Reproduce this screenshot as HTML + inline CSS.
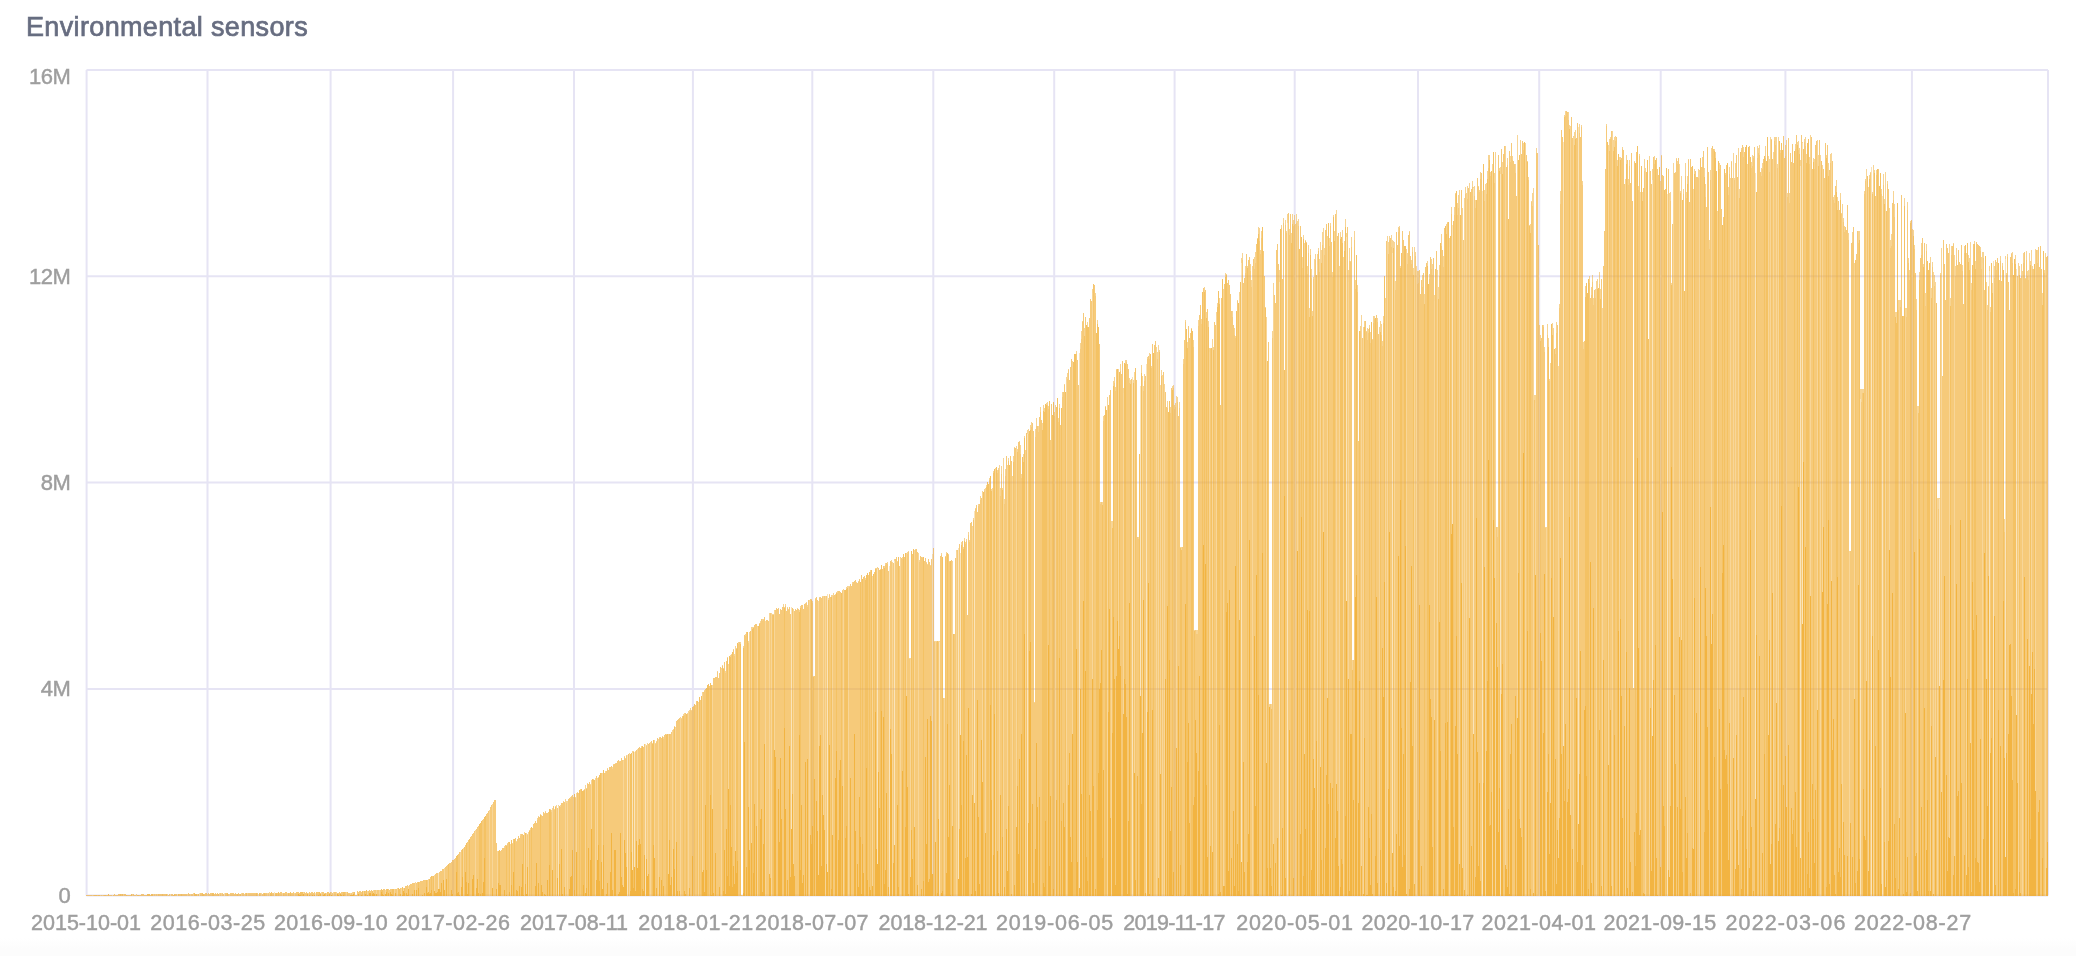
<!DOCTYPE html>
<html><head><meta charset="utf-8"><style>
html,body{margin:0;padding:0;background:#fff;}
body{width:2076px;height:956px;position:relative;overflow:hidden;font-family:"Liberation Sans",sans-serif;}
.title{position:absolute;left:26px;top:10px;font-size:27px;letter-spacing:0.35px;color:#676d80;-webkit-text-stroke:0.7px #676d80;white-space:nowrap;line-height:34px;}
.xl{position:absolute;top:910px;width:200px;text-align:center;font-size:21.5px;letter-spacing:0.3px;color:#9e9e9e;-webkit-text-stroke:0.45px #9e9e9e;line-height:26px;white-space:nowrap;}
.yl{position:absolute;left:0;width:70.3px;text-align:right;font-size:22px;letter-spacing:-0.5px;color:#9e9e9e;-webkit-text-stroke:0.45px #9e9e9e;line-height:26px;white-space:nowrap;margin-top:-5px}
svg{position:absolute;left:0;top:0;}
.title,.xl,.yl{will-change:transform;}
</style></head><body>
<div style="position:absolute;left:0;top:938px;width:2076px;height:18px;background:linear-gradient(#fff,#fcfcfc 60%,#fcfcfc)"></div>
<div class="title">Environmental sensors</div>
<svg width="2076" height="956" viewBox="0 0 2076 956">
<g stroke="#e6e4f4" stroke-width="2" fill="none"><line x1="86.6" y1="70.0" x2="86.6" y2="895.5"/><line x1="207.5" y1="70.0" x2="207.5" y2="895.5"/><line x1="330.6" y1="70.0" x2="330.6" y2="895.5"/><line x1="453.1" y1="70.0" x2="453.1" y2="895.5"/><line x1="574.0" y1="70.0" x2="574.0" y2="895.5"/><line x1="692.9" y1="70.0" x2="692.9" y2="895.5"/><line x1="812.3" y1="70.0" x2="812.3" y2="895.5"/><line x1="933.3" y1="70.0" x2="933.3" y2="895.5"/><line x1="1054.2" y1="70.0" x2="1054.2" y2="895.5"/><line x1="1174.6" y1="70.0" x2="1174.6" y2="895.5"/><line x1="1294.7" y1="70.0" x2="1294.7" y2="895.5"/><line x1="1418.0" y1="70.0" x2="1418.0" y2="895.5"/><line x1="1539.2" y1="70.0" x2="1539.2" y2="895.5"/><line x1="1660.7" y1="70.0" x2="1660.7" y2="895.5"/><line x1="1785.4" y1="70.0" x2="1785.4" y2="895.5"/><line x1="1911.9" y1="70.0" x2="1911.9" y2="895.5"/><line x1="2048.0" y1="70.0" x2="2048.0" y2="895.5"/><line x1="86.5" y1="70.0" x2="2048.0" y2="70.0"/><line x1="86.5" y1="276.3" x2="2048.0" y2="276.3"/><line x1="86.5" y1="482.6" x2="2048.0" y2="482.6"/><line x1="86.5" y1="688.9" x2="2048.0" y2="688.9"/><line x1="86.5" y1="895.5" x2="2048.0" y2="895.5"/></g>
<g fill="rgb(240,170,40)" shape-rendering="crispEdges"><path fill-opacity="0.32" d="M112 895h1v1h-1zM170 894h1v2h-1zM177 894h1v2h-1zM199 893h1v3h-1zM224 893h1v3h-1zM258 894h1v2h-1zM274 892h1v4h-1zM315 893h1v3h-1zM438 873h1v16h-1zM558 806h1v90h-1zM627 755h1v141h-1zM632 753h1v117h-1zM634 752h1v115h-1zM645 744h1v152h-1zM791 607h1v222h-1zM827 594h1v278h-1zM877 569h1v295h-1zM889 566h1v330h-1zM894 561h1v284h-1zM932 554h1v320h-1zM939 642h1v254h-1zM958 548h1v331h-1zM960 553h1v182h-1zM974 511h1v292h-1zM1027 434h1v462h-1zM1079 353h1v535h-1zM1132 377h1v519h-1zM1140 386h1v310h-1zM1146 364h1v532h-1zM1241 263h1v599h-1zM1279 282h1v614h-1zM1287 223h1v673h-1zM1346 237h1v364h-1zM1392 253h1v600h-1zM1452 225h1v299h-1zM1473 188h1v546h-1zM1482 191h1v705h-1zM1500 174h1v722h-1zM1563 142h1v604h-1zM1578 127h1v697h-1zM1652 180h1v556h-1zM1667 194h1v702h-1zM1755 173h1v626h-1zM1800 166h1v692h-1zM1802 143h1v481h-1zM1860 399h1v497h-1zM1871 167h1v729h-1zM1882 196h1v700h-1zM1939 499h1v187h-1zM1989 271h1v625h-1zM1993 261h1v635h-1zM2005 259h1v598h-1zM2016 269h1v446h-1z"/><path fill-opacity="0.48" d="M92 895h1v1h-1zM100 895h1v1h-1zM102 895h1v1h-1zM123 894h1v2h-1zM132 894h1v2h-1zM136 894h1v2h-1zM153 894h1v2h-1zM155 894h1v2h-1zM157 894h1v2h-1zM167 894h1v2h-1zM187 894h1v2h-1zM190 894h1v2h-1zM193 893h1v3h-1zM197 894h1v2h-1zM207 894h1v2h-1zM219 893h1v3h-1zM221 893h1v3h-1zM229 894h1v2h-1zM241 893h1v3h-1zM244 894h1v2h-1zM247 893h1v3h-1zM261 893h1v3h-1zM267 893h1v3h-1zM269 892h1v4h-1zM282 893h1v3h-1zM287 893h1v3h-1zM294 893h1v3h-1zM303 892h1v2h-1zM308 893h1v3h-1zM321 892h1v4h-1zM324 893h1v1h-1zM326 893h1v3h-1zM331 892h1v3h-1zM333 892h1v4h-1zM336 892h1v4h-1zM346 892h1v4h-1zM350 893h1v2h-1zM352 892h1v3h-1zM363 891h1v5h-1zM367 891h1v4h-1zM373 890h1v3h-1zM376 890h1v4h-1zM379 890h1v6h-1zM385 890h1v4h-1zM394 889h1v7h-1zM397 888h1v8h-1zM401 888h1v8h-1zM403 888h1v3h-1zM408 886h1v3h-1zM415 882h1v14h-1zM428 879h1v13h-1zM434 875h1v16h-1zM444 868h1v22h-1zM460 852h1v44h-1zM463 848h1v48h-1zM475 830h1v66h-1zM489 810h1v86h-1zM492 804h1v84h-1zM497 851h1v45h-1zM510 844h1v52h-1zM524 832h1v64h-1zM526 833h1v61h-1zM528 833h1v63h-1zM552 809h1v61h-1zM556 805h1v91h-1zM565 799h1v97h-1zM567 801h1v95h-1zM573 797h1v99h-1zM576 793h1v59h-1zM585 785h1v108h-1zM591 780h1v49h-1zM595 778h1v118h-1zM597 779h1v81h-1zM602 773h1v116h-1zM623 761h1v126h-1zM629 753h1v143h-1zM637 749h1v119h-1zM647 744h1v132h-1zM650 742h1v154h-1zM654 741h1v117h-1zM658 741h1v155h-1zM668 736h1v138h-1zM672 730h1v166h-1zM675 728h1v168h-1zM680 718h1v178h-1zM688 711h1v185h-1zM698 703h1v193h-1zM702 694h1v178h-1zM712 685h1v124h-1zM721 669h1v227h-1zM728 666h1v123h-1zM735 647h1v204h-1zM749 633h1v217h-1zM751 628h1v215h-1zM757 627h1v269h-1zM765 621h1v275h-1zM769 615h1v259h-1zM771 613h1v283h-1zM774 611h1v139h-1zM793 609h1v255h-1zM809 600h1v296h-1zM818 601h1v274h-1zM823 596h1v219h-1zM825 597h1v299h-1zM832 595h1v240h-1zM843 590h1v306h-1zM848 586h1v310h-1zM872 577h1v309h-1zM892 562h1v334h-1zM900 558h1v338h-1zM906 554h1v142h-1zM910 660h1v217h-1zM914 550h1v277h-1zM918 553h1v343h-1zM935 641h1v201h-1zM944 698h1v198h-1zM952 563h1v263h-1zM956 552h1v344h-1zM972 527h1v268h-1zM982 492h1v290h-1zM985 488h1v345h-1zM992 488h1v408h-1zM995 469h1v427h-1zM999 465h1v431h-1zM1003 459h1v437h-1zM1007 468h1v403h-1zM1012 479h1v417h-1zM1016 449h1v378h-1zM1025 458h1v438h-1zM1055 412h1v484h-1zM1066 377h1v519h-1zM1072 367h1v367h-1zM1092 293h1v386h-1zM1107 403h1v493h-1zM1111 521h1v375h-1zM1118 369h1v280h-1zM1123 393h1v321h-1zM1134 372h1v401h-1zM1142 380h1v353h-1zM1156 349h1v547h-1zM1158 345h1v533h-1zM1160 385h1v389h-1zM1162 375h1v521h-1zM1164 389h1v507h-1zM1176 396h1v352h-1zM1209 352h1v544h-1zM1212 339h1v513h-1zM1216 316h1v580h-1zM1223 289h1v597h-1zM1239 296h1v324h-1zM1252 276h1v620h-1zM1266 318h1v445h-1zM1273 284h1v560h-1zM1295 225h1v671h-1zM1297 229h1v322h-1zM1304 243h1v511h-1zM1314 259h1v529h-1zM1317 265h1v631h-1zM1320 242h1v525h-1zM1323 230h1v302h-1zM1327 240h1v458h-1zM1336 210h1v574h-1zM1339 272h1v624h-1zM1343 257h1v639h-1zM1348 282h1v397h-1zM1361 315h1v551h-1zM1363 327h1v567h-1zM1379 333h1v563h-1zM1385 303h1v593h-1zM1387 241h1v655h-1zM1394 242h1v654h-1zM1406 252h1v642h-1zM1414 247h1v637h-1zM1416 266h1v630h-1zM1434 301h1v419h-1zM1437 270h1v626h-1zM1449 247h1v649h-1zM1459 190h1v674h-1zM1462 219h1v649h-1zM1464 198h1v692h-1zM1466 199h1v697h-1zM1469 188h1v430h-1zM1485 184h1v712h-1zM1492 164h1v732h-1zM1495 164h1v732h-1zM1505 149h1v716h-1zM1517 135h1v583h-1zM1520 152h1v676h-1zM1525 143h1v753h-1zM1533 188h1v705h-1zM1535 403h1v172h-1zM1539 330h1v566h-1zM1546 527h1v369h-1zM1550 363h1v440h-1zM1553 338h1v279h-1zM1558 366h1v492h-1zM1570 126h1v689h-1zM1573 137h1v759h-1zM1596 281h1v615h-1zM1602 308h1v588h-1zM1608 154h1v611h-1zM1612 136h1v760h-1zM1619 157h1v739h-1zM1625 179h1v717h-1zM1640 192h1v638h-1zM1645 168h1v728h-1zM1649 158h1v738h-1zM1660 181h1v686h-1zM1669 200h1v677h-1zM1673 163h1v733h-1zM1679 164h1v473h-1zM1681 176h1v464h-1zM1693 189h1v660h-1zM1699 172h1v724h-1zM1711 157h1v487h-1zM1717 212h1v684h-1zM1730 187h1v709h-1zM1733 153h1v605h-1zM1735 172h1v697h-1zM1738 161h1v704h-1zM1747 164h1v732h-1zM1768 156h1v579h-1zM1770 137h1v727h-1zM1773 152h1v744h-1zM1776 150h1v553h-1zM1778 137h1v704h-1zM1786 149h1v658h-1zM1810 135h1v461h-1zM1817 141h1v569h-1zM1820 155h1v741h-1zM1822 165h1v427h-1zM1831 153h1v428h-1zM1842 216h1v680h-1zM1849 551h1v345h-1zM1854 271h1v428h-1zM1866 169h1v512h-1zM1868 191h1v680h-1zM1873 168h1v728h-1zM1885 172h1v715h-1zM1889 213h1v337h-1zM1899 300h1v518h-1zM1905 308h1v405h-1zM1912 229h1v667h-1zM1917 406h1v485h-1zM1930 267h1v624h-1zM1933 272h1v622h-1zM1935 282h1v475h-1zM1937 498h1v398h-1zM1941 248h1v544h-1zM1949 244h1v594h-1zM1954 255h1v601h-1zM1966 257h1v618h-1zM1970 242h1v501h-1zM1982 263h1v633h-1zM1986 282h1v397h-1zM2018 269h1v627h-1zM2022 274h1v622h-1zM2029 253h1v413h-1zM2031 252h1v442h-1zM2035 249h1v542h-1zM2045 262h1v634h-1z"/><path fill-opacity="0.50" d="M504 846h1v2h-1zM506 845h1v1h-1zM507 843h1v1h-1zM512 843h1v1h-1zM516 841h1v1h-1zM520 834h1v2h-1zM527 834h1v1h-1zM528 832h1v1h-1zM529 830h1v1h-1zM530 828h1v2h-1zM537 818h1v2h-1zM538 816h1v1h-1zM540 814h1v1h-1zM541 815h1v1h-1zM544 813h1v1h-1zM545 811h1v1h-1zM550 809h1v1h-1zM551 810h1v2h-1zM552 808h1v1h-1zM554 809h1v1h-1zM555 806h1v1h-1zM558 805h1v1h-1zM560 805h1v2h-1zM563 801h1v1h-1zM566 801h1v2h-1zM570 797h1v2h-1zM571 796h1v1h-1zM575 797h1v1h-1zM577 792h1v1h-1zM580 789h1v1h-1zM583 790h1v1h-1zM584 789h1v1h-1zM586 788h1v1h-1zM587 783h1v1h-1zM590 784h1v1h-1zM593 779h1v1h-1zM597 778h1v1h-1zM598 777h1v1h-1zM605 771h1v2h-1zM607 768h1v1h-1zM612 767h1v2h-1zM613 764h1v1h-1zM615 763h1v1h-1zM619 761h1v1h-1zM623 760h1v1h-1zM624 756h1v1h-1zM625 758h1v1h-1zM626 755h1v1h-1zM632 751h1v2h-1zM633 751h1v1h-1zM635 751h1v1h-1zM641 746h1v2h-1zM646 745h1v1h-1zM647 743h1v1h-1zM652 743h1v1h-1zM654 740h1v1h-1zM655 743h1v1h-1zM656 741h1v1h-1zM658 739h1v2h-1zM659 737h1v1h-1zM662 736h1v1h-1zM663 737h1v2h-1zM666 734h1v1h-1zM668 734h1v2h-1zM673 729h1v1h-1zM674 726h1v1h-1zM675 727h1v1h-1zM680 717h1v1h-1zM681 718h1v1h-1zM683 714h1v2h-1zM684 713h1v2h-1zM687 713h1v1h-1zM689 710h1v2h-1zM690 708h1v2h-1zM691 710h1v1h-1zM693 706h1v1h-1zM698 702h1v1h-1zM702 692h1v2h-1zM704 690h1v1h-1zM717 671h1v1h-1zM721 668h1v1h-1zM722 665h1v1h-1zM723 668h1v1h-1zM725 671h1v2h-1zM727 657h1v1h-1zM728 664h1v2h-1zM730 655h1v2h-1zM731 654h1v1h-1zM733 649h1v1h-1zM734 654h1v2h-1zM735 646h1v1h-1zM736 648h1v1h-1zM738 642h1v2h-1zM740 642h1v2h-1zM742 895h1v1h-1zM743 646h1v2h-1zM745 634h1v2h-1zM748 641h1v2h-1zM749 632h1v1h-1zM751 627h1v1h-1zM752 627h1v2h-1zM753 627h1v1h-1zM757 626h1v1h-1zM759 623h1v1h-1zM760 621h1v2h-1zM762 619h1v2h-1zM763 619h1v1h-1zM769 613h1v2h-1zM772 614h1v1h-1zM773 614h1v1h-1zM774 610h1v1h-1zM783 604h1v3h-1zM784 607h1v1h-1zM785 604h1v2h-1zM787 607h1v1h-1zM788 609h1v1h-1zM797 608h1v1h-1zM799 610h1v2h-1zM800 606h1v2h-1zM805 603h1v1h-1zM806 602h1v1h-1zM807 605h1v2h-1zM811 599h1v1h-1zM812 601h1v2h-1zM813 676h1v1h-1zM815 598h1v1h-1zM819 597h1v1h-1zM822 596h1v1h-1zM825 596h1v1h-1zM828 598h1v2h-1zM829 594h1v1h-1zM831 595h1v2h-1zM833 593h1v3h-1zM835 594h1v1h-1zM836 592h1v1h-1zM837 591h1v2h-1zM842 590h1v1h-1zM843 589h1v1h-1zM846 587h1v2h-1zM847 586h1v2h-1zM849 586h1v1h-1zM852 582h1v2h-1zM856 582h1v1h-1zM858 581h1v1h-1zM865 578h1v2h-1zM870 570h1v2h-1zM872 576h1v1h-1zM875 568h1v1h-1zM876 568h1v1h-1zM877 567h1v2h-1zM880 569h1v1h-1zM884 566h1v2h-1zM885 563h1v2h-1zM887 562h1v2h-1zM891 560h1v2h-1zM894 559h1v2h-1zM897 561h1v1h-1zM900 557h1v1h-1zM902 557h1v2h-1zM906 553h1v1h-1zM907 552h1v2h-1zM908 551h1v1h-1zM909 658h1v1h-1zM910 658h1v2h-1zM915 549h1v1h-1zM919 560h1v2h-1zM922 557h1v1h-1zM926 562h1v1h-1zM927 564h1v1h-1zM930 565h1v1h-1zM934 641h1v1h-1zM936 641h1v1h-1zM938 641h1v1h-1zM939 641h1v1h-1zM941 553h1v2h-1zM945 556h1v1h-1zM946 552h1v2h-1zM948 554h1v1h-1zM949 561h1v1h-1zM952 561h1v2h-1zM956 550h1v2h-1zM961 542h1v3h-1zM963 547h1v2h-1zM964 538h1v3h-1zM965 542h1v2h-1zM966 539h1v2h-1zM968 532h1v3h-1zM969 540h1v2h-1zM972 526h1v1h-1zM973 518h1v2h-1zM975 508h1v1h-1zM978 504h1v2h-1zM980 496h1v4h-1zM982 491h1v1h-1zM984 489h1v2h-1zM986 485h1v2h-1zM989 478h1v2h-1zM991 489h1v2h-1zM993 471h1v2h-1zM995 468h1v1h-1zM997 470h1v3h-1zM998 468h1v2h-1zM1000 488h1v8h-1zM1001 466h1v8h-1zM1002 488h1v2h-1zM1003 458h1v1h-1zM1004 499h1v5h-1zM1005 469h1v7h-1zM1007 465h1v3h-1zM1008 458h1v3h-1zM1012 476h1v3h-1zM1013 456h1v6h-1zM1014 447h1v1h-1zM1016 446h1v3h-1zM1017 449h1v3h-1zM1019 441h1v1h-1zM1020 445h1v9h-1zM1021 474h1v4h-1zM1023 454h1v8h-1zM1024 436h1v2h-1zM1025 450h1v8h-1zM1027 430h1v4h-1zM1028 429h1v5h-1zM1030 425h1v5h-1zM1031 422h1v5h-1zM1034 702h1v1h-1zM1035 429h1v8h-1zM1036 418h1v8h-1zM1038 426h1v6h-1zM1040 407h1v5h-1zM1042 423h1v7h-1zM1043 405h1v6h-1zM1044 408h1v4h-1zM1046 403h1v2h-1zM1047 402h1v3h-1zM1048 406h1v3h-1zM1054 412h1v4h-1zM1055 405h1v7h-1zM1058 418h1v4h-1zM1059 404h1v4h-1zM1062 392h1v5h-1zM1064 384h1v1h-1zM1067 373h1v6h-1zM1068 369h1v1h-1zM1072 361h1v6h-1zM1076 351h1v3h-1zM1080 343h1v6h-1zM1081 331h1v8h-1zM1082 321h1v1h-1zM1084 328h1v8h-1zM1087 322h1v5h-1zM1092 289h1v4h-1zM1095 293h1v3h-1zM1097 320h1v4h-1zM1100 502h1v2h-1zM1102 502h1v3h-1zM1103 416h1v5h-1zM1105 406h1v1h-1zM1107 397h1v6h-1zM1112 521h1v7h-1zM1113 381h1v5h-1zM1114 377h1v6h-1zM1115 387h1v4h-1zM1116 369h1v1h-1zM1120 364h1v7h-1zM1123 388h1v5h-1zM1125 360h1v4h-1zM1126 360h1v2h-1zM1129 378h1v5h-1zM1130 380h1v4h-1zM1133 380h1v3h-1zM1138 537h1v2h-1zM1141 365h1v8h-1zM1142 376h1v4h-1zM1143 386h1v5h-1zM1144 374h1v7h-1zM1147 357h1v2h-1zM1149 353h1v6h-1zM1151 366h1v2h-1zM1156 347h1v2h-1zM1157 352h1v7h-1zM1159 350h1v2h-1zM1161 370h1v6h-1zM1164 384h1v5h-1zM1167 401h1v7h-1zM1170 407h1v6h-1zM1172 386h1v4h-1zM1173 385h1v3h-1zM1174 405h1v4h-1zM1175 403h1v4h-1zM1177 397h1v5h-1zM1179 402h1v6h-1zM1180 547h1v1h-1zM1181 547h1v3h-1zM1183 359h1v5h-1zM1185 320h1v2h-1zM1187 342h1v6h-1zM1191 328h1v1h-1zM1193 340h1v7h-1zM1194 630h1v1h-1zM1196 630h1v4h-1zM1197 630h1v4h-1zM1198 320h1v6h-1zM1201 319h1v5h-1zM1204 287h1v5h-1zM1206 312h1v6h-1zM1208 321h1v6h-1zM1209 348h1v4h-1zM1210 348h1v1h-1zM1213 347h1v3h-1zM1216 312h1v4h-1zM1217 303h1v4h-1zM1219 298h1v6h-1zM1225 273h1v4h-1zM1226 274h1v1h-1zM1232 311h1v6h-1zM1234 328h1v7h-1zM1235 336h1v2h-1zM1237 300h1v1h-1zM1239 292h1v4h-1zM1241 258h1v5h-1zM1242 253h1v7h-1zM1245 266h1v7h-1zM1247 266h1v2h-1zM1250 264h1v7h-1zM1251 280h1v7h-1zM1252 266h1v10h-1zM1254 257h1v12h-1zM1255 252h1v11h-1zM1257 238h1v1h-1zM1258 227h1v7h-1zM1259 228h1v13h-1zM1260 250h1v4h-1zM1261 231h1v7h-1zM1265 307h1v1h-1zM1266 317h1v1h-1zM1269 704h1v3h-1zM1271 704h1v5h-1zM1272 331h1v7h-1zM1273 283h1v1h-1zM1279 270h1v12h-1zM1281 225h1v3h-1zM1283 218h1v5h-1zM1285 220h1v5h-1zM1286 231h1v2h-1zM1287 214h1v9h-1zM1289 229h1v6h-1zM1291 233h1v10h-1zM1292 214h1v10h-1zM1293 220h1v6h-1zM1294 215h1v10h-1zM1295 224h1v1h-1zM1296 214h1v9h-1zM1297 221h1v8h-1zM1298 219h1v7h-1zM1302 257h1v11h-1zM1303 235h1v4h-1zM1305 240h1v1h-1zM1306 242h1v1h-1zM1307 266h1v8h-1zM1308 245h1v8h-1zM1309 308h1v9h-1zM1310 249h1v6h-1zM1311 269h1v9h-1zM1312 311h1v5h-1zM1313 277h1v2h-1zM1315 254h1v6h-1zM1317 254h1v11h-1zM1318 248h1v3h-1zM1319 259h1v13h-1zM1321 250h1v13h-1zM1322 232h1v13h-1zM1323 228h1v2h-1zM1324 248h1v7h-1zM1327 236h1v4h-1zM1329 238h1v8h-1zM1330 223h1v3h-1zM1332 272h1v5h-1zM1333 215h1v2h-1zM1334 231h1v10h-1zM1339 266h1v6h-1zM1340 232h1v7h-1zM1342 230h1v13h-1zM1344 241h1v10h-1zM1345 219h1v8h-1zM1346 233h1v4h-1zM1348 270h1v12h-1zM1349 248h1v13h-1zM1350 261h1v1h-1zM1351 237h1v10h-1zM1352 660h1v10h-1zM1354 231h1v9h-1zM1355 280h1v9h-1zM1357 285h1v7h-1zM1360 326h1v5h-1zM1364 321h1v6h-1zM1366 331h1v1h-1zM1367 328h1v12h-1zM1368 329h1v4h-1zM1369 325h1v3h-1zM1370 332h1v11h-1zM1372 339h1v1h-1zM1373 316h1v7h-1zM1374 316h1v3h-1zM1377 318h1v4h-1zM1379 327h1v6h-1zM1380 321h1v11h-1zM1381 324h1v11h-1zM1382 341h1v5h-1zM1383 316h1v7h-1zM1385 298h1v5h-1zM1387 236h1v5h-1zM1388 242h1v12h-1zM1389 236h1v4h-1zM1391 235h1v12h-1zM1392 240h1v13h-1zM1393 241h1v7h-1zM1395 281h1v9h-1zM1398 227h1v5h-1zM1399 226h1v2h-1zM1400 266h1v2h-1zM1406 249h1v3h-1zM1407 253h1v11h-1zM1409 231h1v1h-1zM1411 260h1v4h-1zM1412 247h1v5h-1zM1413 268h1v7h-1zM1415 252h1v4h-1zM1417 271h1v13h-1zM1418 271h1v12h-1zM1422 275h1v12h-1zM1424 294h1v10h-1zM1427 261h1v5h-1zM1429 274h1v5h-1zM1431 259h1v10h-1zM1432 264h1v11h-1zM1434 295h1v6h-1zM1438 287h1v12h-1zM1439 265h1v11h-1zM1441 234h1v12h-1zM1443 256h1v11h-1zM1446 224h1v10h-1zM1447 222h1v1h-1zM1449 238h1v9h-1zM1451 207h1v7h-1zM1454 207h1v8h-1zM1455 193h1v1h-1zM1457 203h1v12h-1zM1458 195h1v13h-1zM1462 208h1v11h-1zM1465 187h1v7h-1zM1466 193h1v6h-1zM1467 186h1v13h-1zM1469 183h1v5h-1zM1472 181h1v6h-1zM1473 187h1v1h-1zM1474 186h1v10h-1zM1475 200h1v8h-1zM1478 186h1v1h-1zM1479 190h1v2h-1zM1480 172h1v7h-1zM1484 190h1v11h-1zM1486 183h1v11h-1zM1487 171h1v8h-1zM1488 155h1v13h-1zM1489 155h1v5h-1zM1490 172h1v4h-1zM1494 173h1v10h-1zM1495 152h1v12h-1zM1497 527h1v10h-1zM1499 168h1v3h-1zM1500 167h1v7h-1zM1502 162h1v12h-1zM1505 146h1v3h-1zM1507 158h1v7h-1zM1510 156h1v6h-1zM1512 156h1v4h-1zM1515 164h1v9h-1zM1520 140h1v12h-1zM1523 143h1v7h-1zM1527 161h1v1h-1zM1528 177h1v3h-1zM1529 225h1v1h-1zM1530 224h1v9h-1zM1531 201h1v1h-1zM1532 193h1v13h-1zM1534 395h1v5h-1zM1535 395h1v8h-1zM1536 148h1v5h-1zM1539 325h1v5h-1zM1540 335h1v6h-1zM1543 325h1v2h-1zM1544 347h1v5h-1zM1545 527h1v1h-1zM1547 324h1v11h-1zM1548 338h1v9h-1zM1549 379h1v2h-1zM1552 323h1v12h-1zM1553 328h1v10h-1zM1555 348h1v6h-1zM1556 322h1v11h-1zM1559 304h1v4h-1zM1560 191h1v13h-1zM1564 115h1v2h-1zM1565 111h1v5h-1zM1568 112h1v8h-1zM1569 125h1v4h-1zM1573 136h1v1h-1zM1574 132h1v13h-1zM1575 130h1v9h-1zM1579 124h1v9h-1zM1581 125h1v2h-1zM1582 181h1v4h-1zM1583 342h1v7h-1zM1585 286h1v11h-1zM1589 276h1v7h-1zM1591 287h1v8h-1zM1592 275h1v7h-1zM1593 298h1v7h-1zM1595 289h1v9h-1zM1597 279h1v10h-1zM1599 272h1v12h-1zM1600 289h1v10h-1zM1606 124h1v2h-1zM1608 145h1v9h-1zM1609 139h1v12h-1zM1610 137h1v2h-1zM1612 131h1v5h-1zM1613 140h1v11h-1zM1614 137h1v10h-1zM1615 136h1v5h-1zM1617 160h1v6h-1zM1620 157h1v3h-1zM1622 147h1v2h-1zM1626 155h1v9h-1zM1628 179h1v6h-1zM1629 160h1v6h-1zM1634 161h1v1h-1zM1638 186h1v4h-1zM1639 154h1v2h-1zM1642 192h1v9h-1zM1644 159h1v12h-1zM1649 156h1v2h-1zM1652 169h1v11h-1zM1654 156h1v8h-1zM1661 155h1v1h-1zM1669 193h1v7h-1zM1670 192h1v9h-1zM1671 283h1v2h-1zM1675 172h1v1h-1zM1676 158h1v1h-1zM1677 161h1v3h-1zM1680 191h1v2h-1zM1683 189h1v5h-1zM1685 163h1v13h-1zM1686 192h1v6h-1zM1687 176h1v8h-1zM1688 159h1v1h-1zM1694 169h1v5h-1zM1698 169h1v9h-1zM1699 170h1v2h-1zM1702 157h1v10h-1zM1704 168h1v9h-1zM1705 184h1v13h-1zM1709 240h1v9h-1zM1710 170h1v10h-1zM1711 148h1v9h-1zM1714 149h1v2h-1zM1715 152h1v6h-1zM1717 211h1v1h-1zM1719 163h1v6h-1zM1725 173h1v2h-1zM1728 187h1v8h-1zM1729 167h1v7h-1zM1730 178h1v9h-1zM1731 161h1v1h-1zM1734 178h1v2h-1zM1735 163h1v9h-1zM1738 148h1v13h-1zM1739 189h1v9h-1zM1741 148h1v2h-1zM1743 147h1v10h-1zM1751 162h1v6h-1zM1752 155h1v11h-1zM1753 156h1v2h-1zM1757 146h1v12h-1zM1758 148h1v5h-1zM1759 145h1v10h-1zM1761 168h1v8h-1zM1762 163h1v6h-1zM1765 146h1v12h-1zM1769 159h1v13h-1zM1771 139h1v1h-1zM1774 137h1v4h-1zM1775 137h1v8h-1zM1776 137h1v13h-1zM1777 164h1v4h-1zM1780 150h1v3h-1zM1785 145h1v11h-1zM1786 140h1v9h-1zM1787 193h1v4h-1zM1789 193h1v10h-1zM1795 144h1v5h-1zM1797 142h1v3h-1zM1798 141h1v9h-1zM1799 148h1v6h-1zM1800 160h1v6h-1zM1802 142h1v1h-1zM1804 139h1v3h-1zM1805 137h1v9h-1zM1806 154h1v9h-1zM1809 157h1v7h-1zM1813 158h1v4h-1zM1814 159h1v10h-1zM1817 140h1v1h-1zM1818 155h1v11h-1zM1826 155h1v3h-1zM1828 163h1v13h-1zM1830 154h1v9h-1zM1833 197h1v3h-1zM1834 195h1v8h-1zM1836 180h1v12h-1zM1837 197h1v13h-1zM1840 193h1v7h-1zM1841 213h1v1h-1zM1842 204h1v12h-1zM1843 218h1v4h-1zM1844 226h1v6h-1zM1848 233h1v7h-1zM1852 232h1v10h-1zM1854 263h1v8h-1zM1858 231h1v12h-1zM1859 231h1v9h-1zM1860 389h1v10h-1zM1861 389h1v13h-1zM1862 389h1v4h-1zM1863 389h1v4h-1zM1864 191h1v3h-1zM1865 179h1v2h-1zM1868 187h1v4h-1zM1869 175h1v4h-1zM1870 172h1v1h-1zM1872 192h1v2h-1zM1873 165h1v3h-1zM1874 170h1v3h-1zM1876 170h1v5h-1zM1881 189h1v5h-1zM1883 174h1v11h-1zM1884 199h1v5h-1zM1887 181h1v3h-1zM1889 208h1v5h-1zM1890 240h1v8h-1zM1891 234h1v12h-1zM1893 191h1v9h-1zM1894 204h1v13h-1zM1895 312h1v5h-1zM1896 312h1v11h-1zM1898 300h1v10h-1zM1900 300h1v7h-1zM1904 198h1v8h-1zM1906 308h1v9h-1zM1907 202h1v8h-1zM1908 258h1v5h-1zM1909 270h1v10h-1zM1910 221h1v2h-1zM1913 230h1v6h-1zM1914 245h1v4h-1zM1916 299h1v11h-1zM1918 406h1v7h-1zM1919 272h1v8h-1zM1921 243h1v12h-1zM1923 264h1v3h-1zM1925 293h1v13h-1zM1926 244h1v7h-1zM1930 257h1v10h-1zM1931 288h1v10h-1zM1932 262h1v5h-1zM1934 275h1v11h-1zM1938 498h1v11h-1zM1939 498h1v1h-1zM1940 273h1v2h-1zM1950 298h1v8h-1zM1951 246h1v9h-1zM1953 243h1v1h-1zM1955 266h1v10h-1zM1956 248h1v12h-1zM1962 265h1v6h-1zM1964 246h1v7h-1zM1966 253h1v4h-1zM1968 255h1v7h-1zM1969 258h1v12h-1zM1971 283h1v7h-1zM1974 241h1v3h-1zM1975 261h1v8h-1zM1980 247h1v4h-1zM1981 257h1v12h-1zM1982 252h1v11h-1zM1983 252h1v6h-1zM1987 305h1v5h-1zM1988 286h1v1h-1zM1989 266h1v5h-1zM1990 307h1v5h-1zM1992 283h1v10h-1zM1994 266h1v12h-1zM1996 262h1v8h-1zM2000 256h1v5h-1zM2002 263h1v3h-1zM2004 519h1v13h-1zM2005 256h1v3h-1zM2006 273h1v2h-1zM2007 254h1v3h-1zM2011 253h1v1h-1zM2012 252h1v11h-1zM2015 255h1v9h-1zM2018 263h1v6h-1zM2019 266h1v9h-1zM2021 264h1v12h-1zM2022 271h1v3h-1zM2023 253h1v10h-1zM2025 278h1v1h-1zM2026 251h1v9h-1zM2027 271h1v5h-1zM2028 270h1v10h-1zM2030 261h1v4h-1zM2031 250h1v2h-1zM2032 266h1v3h-1zM2037 250h1v13h-1zM2042 293h1v12h-1zM2044 270h1v3h-1zM2045 253h1v9h-1z"/><path fill-opacity="0.62" d="M86 895h1v1h-1zM87 895h1v1h-1zM88 895h1v1h-1zM89 895h1v1h-1zM90 895h1v1h-1zM91 895h1v1h-1zM93 895h1v1h-1zM97 895h1v1h-1zM101 895h1v1h-1zM103 895h1v1h-1zM106 895h1v1h-1zM107 895h1v1h-1zM109 895h1v1h-1zM110 895h1v1h-1zM111 895h1v1h-1zM114 894h1v2h-1zM115 895h1v1h-1zM116 895h1v1h-1zM117 895h1v1h-1zM118 894h1v2h-1zM119 894h1v2h-1zM121 894h1v2h-1zM124 894h1v2h-1zM125 894h1v2h-1zM127 895h1v1h-1zM128 895h1v1h-1zM129 895h1v1h-1zM130 895h1v1h-1zM133 894h1v2h-1zM134 895h1v1h-1zM135 895h1v1h-1zM139 895h1v1h-1zM140 895h1v1h-1zM141 894h1v2h-1zM142 894h1v2h-1zM143 894h1v2h-1zM144 895h1v1h-1zM145 895h1v1h-1zM146 895h1v1h-1zM150 895h1v1h-1zM154 894h1v2h-1zM156 894h1v2h-1zM159 894h1v2h-1zM160 894h1v2h-1zM161 894h1v2h-1zM163 894h1v2h-1zM164 894h1v2h-1zM165 894h1v2h-1zM168 895h1v1h-1zM169 894h1v2h-1zM171 894h1v2h-1zM172 894h1v2h-1zM175 894h1v2h-1zM176 894h1v2h-1zM179 894h1v2h-1zM180 894h1v2h-1zM182 894h1v2h-1zM183 894h1v2h-1zM184 894h1v2h-1zM185 894h1v2h-1zM186 894h1v2h-1zM188 893h1v3h-1zM189 894h1v2h-1zM191 894h1v2h-1zM192 894h1v2h-1zM200 893h1v3h-1zM201 893h1v3h-1zM204 894h1v2h-1zM205 893h1v3h-1zM206 893h1v3h-1zM208 893h1v3h-1zM209 894h1v2h-1zM210 893h1v3h-1zM211 893h1v3h-1zM214 894h1v2h-1zM215 893h1v3h-1zM216 894h1v2h-1zM217 893h1v3h-1zM220 893h1v3h-1zM222 893h1v3h-1zM223 894h1v2h-1zM225 893h1v3h-1zM226 893h1v3h-1zM228 894h1v2h-1zM230 893h1v3h-1zM231 893h1v3h-1zM232 893h1v3h-1zM233 893h1v3h-1zM234 894h1v2h-1zM235 893h1v3h-1zM236 894h1v2h-1zM238 893h1v3h-1zM239 894h1v2h-1zM242 893h1v3h-1zM243 893h1v3h-1zM245 893h1v3h-1zM248 893h1v3h-1zM249 893h1v3h-1zM250 893h1v3h-1zM251 893h1v3h-1zM252 893h1v3h-1zM253 893h1v3h-1zM254 893h1v3h-1zM255 893h1v3h-1zM257 893h1v3h-1zM260 893h1v3h-1zM262 894h1v2h-1zM263 893h1v3h-1zM265 893h1v3h-1zM266 893h1v3h-1zM268 893h1v3h-1zM272 893h1v3h-1zM273 893h1v3h-1zM277 893h1v3h-1zM279 893h1v3h-1zM280 892h1v4h-1zM281 892h1v4h-1zM284 893h1v3h-1zM285 892h1v4h-1zM286 892h1v4h-1zM289 893h1v3h-1zM291 893h1v3h-1zM292 893h1v3h-1zM293 892h1v4h-1zM295 893h1v3h-1zM296 892h1v4h-1zM297 892h1v4h-1zM298 892h1v2h-1zM299 893h1v2h-1zM304 892h1v4h-1zM305 893h1v3h-1zM306 892h1v4h-1zM307 893h1v1h-1zM309 892h1v3h-1zM310 893h1v3h-1zM311 892h1v4h-1zM312 892h1v3h-1zM313 893h1v3h-1zM314 892h1v3h-1zM317 892h1v4h-1zM318 892h1v3h-1zM320 893h1v1h-1zM322 892h1v4h-1zM323 892h1v3h-1zM328 892h1v4h-1zM329 893h1v1h-1zM330 892h1v4h-1zM332 893h1v3h-1zM334 892h1v4h-1zM335 892h1v4h-1zM337 893h1v1h-1zM338 893h1v2h-1zM339 892h1v4h-1zM340 893h1v1h-1zM341 892h1v3h-1zM342 892h1v4h-1zM345 892h1v4h-1zM348 893h1v3h-1zM349 893h1v3h-1zM351 893h1v2h-1zM353 892h1v2h-1zM355 895h1v1h-1zM356 895h1v1h-1zM357 891h1v5h-1zM358 892h1v2h-1zM359 891h1v5h-1zM360 891h1v5h-1zM361 892h1v3h-1zM365 891h1v3h-1zM368 891h1v5h-1zM369 890h1v3h-1zM370 891h1v2h-1zM371 890h1v6h-1zM374 890h1v4h-1zM375 890h1v6h-1zM377 890h1v6h-1zM378 890h1v6h-1zM380 890h1v6h-1zM383 889h1v6h-1zM384 889h1v7h-1zM388 889h1v4h-1zM389 890h1v6h-1zM390 889h1v3h-1zM391 889h1v5h-1zM395 889h1v4h-1zM396 889h1v7h-1zM400 888h1v6h-1zM405 886h1v10h-1zM406 886h1v7h-1zM407 885h1v10h-1zM409 885h1v11h-1zM410 884h1v12h-1zM411 884h1v12h-1zM412 883h1v11h-1zM413 883h1v13h-1zM414 883h1v7h-1zM416 883h1v7h-1zM417 882h1v14h-1zM419 882h1v14h-1zM420 881h1v15h-1zM421 881h1v15h-1zM422 881h1v14h-1zM423 880h1v16h-1zM424 880h1v13h-1zM425 880h1v16h-1zM427 880h1v13h-1zM430 877h1v16h-1zM432 876h1v20h-1zM435 874h1v19h-1zM436 873h1v20h-1zM437 873h1v19h-1zM439 872h1v17h-1zM440 871h1v21h-1zM441 871h1v12h-1zM442 869h1v27h-1zM443 869h1v11h-1zM445 867h1v29h-1zM446 866h1v13h-1zM447 865h1v31h-1zM449 863h1v33h-1zM450 863h1v33h-1zM451 862h1v28h-1zM452 860h1v34h-1zM453 860h1v36h-1zM454 859h1v37h-1zM455 858h1v38h-1zM458 854h1v38h-1zM459 852h1v43h-1zM461 850h1v37h-1zM465 845h1v27h-1zM467 842h1v52h-1zM468 840h1v43h-1zM470 837h1v59h-1zM471 836h1v60h-1zM472 834h1v45h-1zM473 833h1v42h-1zM474 831h1v65h-1zM476 829h1v59h-1zM477 827h1v52h-1zM478 826h1v67h-1zM482 820h1v73h-1zM483 819h1v63h-1zM486 814h1v82h-1zM487 813h1v83h-1zM488 811h1v85h-1zM490 807h1v89h-1zM491 805h1v91h-1zM493 802h1v94h-1zM494 800h1v96h-1zM495 800h1v96h-1zM496 843h1v46h-1zM500 851h1v34h-1zM501 850h1v46h-1zM502 848h1v48h-1zM503 848h1v48h-1zM504 848h1v42h-1zM505 845h1v51h-1zM507 844h1v52h-1zM508 842h1v54h-1zM512 844h1v52h-1zM513 839h1v33h-1zM515 838h1v58h-1zM516 842h1v48h-1zM517 839h1v52h-1zM518 836h1v60h-1zM519 838h1v48h-1zM520 836h1v60h-1zM521 834h1v53h-1zM522 834h1v30h-1zM527 835h1v32h-1zM530 830h1v66h-1zM532 828h1v68h-1zM533 824h1v72h-1zM534 823h1v73h-1zM535 821h1v65h-1zM536 823h1v40h-1zM537 820h1v76h-1zM538 817h1v66h-1zM539 817h1v79h-1zM541 816h1v69h-1zM542 816h1v76h-1zM543 812h1v84h-1zM544 814h1v80h-1zM545 812h1v83h-1zM546 813h1v83h-1zM547 813h1v67h-1zM548 812h1v84h-1zM551 812h1v84h-1zM553 806h1v90h-1zM554 810h1v86h-1zM557 808h1v70h-1zM560 807h1v89h-1zM561 803h1v46h-1zM562 803h1v91h-1zM563 802h1v94h-1zM564 802h1v85h-1zM566 803h1v93h-1zM568 799h1v97h-1zM569 798h1v91h-1zM570 799h1v78h-1zM571 797h1v79h-1zM572 795h1v55h-1zM575 798h1v98h-1zM578 793h1v103h-1zM580 790h1v106h-1zM587 784h1v112h-1zM588 784h1v64h-1zM589 782h1v114h-1zM590 785h1v75h-1zM596 776h1v104h-1zM601 773h1v89h-1zM604 773h1v123h-1zM605 773h1v123h-1zM606 771h1v123h-1zM607 769h1v114h-1zM608 770h1v126h-1zM609 767h1v129h-1zM610 767h1v105h-1zM611 766h1v67h-1zM612 769h1v121h-1zM613 765h1v131h-1zM614 764h1v86h-1zM615 764h1v86h-1zM616 763h1v133h-1zM617 761h1v135h-1zM618 760h1v134h-1zM619 762h1v130h-1zM620 761h1v72h-1zM621 758h1v119h-1zM622 760h1v125h-1zM624 757h1v83h-1zM625 759h1v94h-1zM626 756h1v111h-1zM635 752h1v139h-1zM636 750h1v91h-1zM638 748h1v97h-1zM639 747h1v92h-1zM640 748h1v96h-1zM643 747h1v144h-1zM644 744h1v111h-1zM646 746h1v113h-1zM648 744h1v130h-1zM649 743h1v153h-1zM651 741h1v155h-1zM655 744h1v152h-1zM656 742h1v146h-1zM657 738h1v158h-1zM659 738h1v139h-1zM660 737h1v159h-1zM661 738h1v142h-1zM663 739h1v147h-1zM664 735h1v161h-1zM665 734h1v162h-1zM670 734h1v151h-1zM671 732h1v145h-1zM673 730h1v119h-1zM676 721h1v121h-1zM677 720h1v171h-1zM678 719h1v177h-1zM679 718h1v173h-1zM681 719h1v177h-1zM682 716h1v180h-1zM684 715h1v176h-1zM685 713h1v181h-1zM687 714h1v182h-1zM689 712h1v176h-1zM690 710h1v186h-1zM691 711h1v185h-1zM692 707h1v149h-1zM693 707h1v189h-1zM695 705h1v191h-1zM696 701h1v195h-1zM700 700h1v196h-1zM703 692h1v178h-1zM704 691h1v201h-1zM705 689h1v116h-1zM709 686h1v210h-1zM713 678h1v215h-1zM714 678h1v218h-1zM715 677h1v176h-1zM716 677h1v219h-1zM717 672h1v224h-1zM718 678h1v218h-1zM719 673h1v214h-1zM720 667h1v229h-1zM724 662h1v188h-1zM725 673h1v221h-1zM726 661h1v168h-1zM731 655h1v192h-1zM733 650h1v216h-1zM734 656h1v228h-1zM738 644h1v252h-1zM739 642h1v254h-1zM741 895h1v1h-1zM744 635h1v107h-1zM745 636h1v260h-1zM746 632h1v235h-1zM748 643h1v164h-1zM754 625h1v179h-1zM755 624h1v272h-1zM756 624h1v202h-1zM760 623h1v196h-1zM761 619h1v190h-1zM762 621h1v271h-1zM763 620h1v224h-1zM764 617h1v127h-1zM766 620h1v276h-1zM767 620h1v276h-1zM768 621h1v275h-1zM770 613h1v265h-1zM775 610h1v147h-1zM776 608h1v288h-1zM777 609h1v287h-1zM778 608h1v181h-1zM779 614h1v228h-1zM780 609h1v149h-1zM781 610h1v209h-1zM782 607h1v289h-1zM783 607h1v289h-1zM785 606h1v203h-1zM786 611h1v285h-1zM787 608h1v272h-1zM788 610h1v286h-1zM789 607h1v139h-1zM790 614h1v263h-1zM794 611h1v265h-1zM795 609h1v287h-1zM796 610h1v286h-1zM797 609h1v287h-1zM798 609h1v287h-1zM801 605h1v200h-1zM802 605h1v278h-1zM803 609h1v266h-1zM804 604h1v292h-1zM805 604h1v158h-1zM806 603h1v293h-1zM807 607h1v152h-1zM808 600h1v296h-1zM810 599h1v236h-1zM812 603h1v223h-1zM814 676h1v103h-1zM815 599h1v297h-1zM816 597h1v204h-1zM817 600h1v231h-1zM819 598h1v148h-1zM820 597h1v138h-1zM821 598h1v268h-1zM822 597h1v198h-1zM824 596h1v234h-1zM826 596h1v268h-1zM829 595h1v150h-1zM830 597h1v299h-1zM833 596h1v300h-1zM834 595h1v301h-1zM835 595h1v183h-1zM837 593h1v303h-1zM838 591h1v249h-1zM839 591h1v179h-1zM840 592h1v168h-1zM842 591h1v195h-1zM849 587h1v309h-1zM850 584h1v194h-1zM851 586h1v310h-1zM852 584h1v312h-1zM853 582h1v314h-1zM854 581h1v153h-1zM855 580h1v251h-1zM856 583h1v313h-1zM857 583h1v281h-1zM858 582h1v305h-1zM859 579h1v218h-1zM861 575h1v319h-1zM863 577h1v296h-1zM864 576h1v320h-1zM868 575h1v321h-1zM870 572h1v318h-1zM874 572h1v324h-1zM876 569h1v280h-1zM878 568h1v204h-1zM879 570h1v238h-1zM882 569h1v327h-1zM883 566h1v151h-1zM885 565h1v305h-1zM886 563h1v230h-1zM887 564h1v332h-1zM888 571h1v316h-1zM890 561h1v168h-1zM891 562h1v192h-1zM893 563h1v300h-1zM895 559h1v337h-1zM896 557h1v339h-1zM897 562h1v243h-1zM899 566h1v330h-1zM901 558h1v338h-1zM902 559h1v212h-1zM904 557h1v339h-1zM907 554h1v233h-1zM908 552h1v342h-1zM909 659h1v237h-1zM912 554h1v305h-1zM915 550h1v346h-1zM916 549h1v347h-1zM917 552h1v333h-1zM919 562h1v334h-1zM920 556h1v340h-1zM921 557h1v332h-1zM922 558h1v338h-1zM924 561h1v335h-1zM925 558h1v199h-1zM926 563h1v281h-1zM927 565h1v154h-1zM928 559h1v323h-1zM929 562h1v317h-1zM930 566h1v150h-1zM931 559h1v162h-1zM933 548h1v348h-1zM934 642h1v254h-1zM936 642h1v254h-1zM938 642h1v177h-1zM940 556h1v340h-1zM941 555h1v338h-1zM943 698h1v198h-1zM946 554h1v319h-1zM948 555h1v282h-1zM949 562h1v223h-1zM951 560h1v336h-1zM954 634h1v262h-1zM955 558h1v338h-1zM957 550h1v346h-1zM959 544h1v285h-1zM962 541h1v355h-1zM965 544h1v314h-1zM966 541h1v214h-1zM967 615h1v242h-1zM968 535h1v173h-1zM969 542h1v354h-1zM970 523h1v373h-1zM971 522h1v372h-1zM975 509h1v382h-1zM976 505h1v391h-1zM977 512h1v188h-1zM978 506h1v311h-1zM979 504h1v380h-1zM980 500h1v396h-1zM981 498h1v242h-1zM984 491h1v405h-1zM989 480h1v416h-1zM997 473h1v378h-1zM998 470h1v423h-1zM1000 496h1v299h-1zM1001 474h1v422h-1zM1004 504h1v383h-1zM1005 476h1v420h-1zM1006 456h1v373h-1zM1010 456h1v440h-1zM1011 461h1v433h-1zM1014 448h1v437h-1zM1015 448h1v448h-1zM1018 442h1v412h-1zM1019 442h1v317h-1zM1020 454h1v442h-1zM1021 478h1v256h-1zM1028 434h1v389h-1zM1031 427h1v469h-1zM1032 423h1v381h-1zM1033 431h1v452h-1zM1034 703h1v193h-1zM1035 437h1v412h-1zM1036 426h1v317h-1zM1037 426h1v381h-1zM1038 432h1v464h-1zM1039 417h1v380h-1zM1040 412h1v484h-1zM1041 420h1v476h-1zM1047 405h1v491h-1zM1048 409h1v236h-1zM1050 440h1v356h-1zM1051 404h1v492h-1zM1054 416h1v480h-1zM1058 422h1v474h-1zM1060 425h1v471h-1zM1062 397h1v499h-1zM1063 392h1v411h-1zM1064 385h1v442h-1zM1067 379h1v517h-1zM1068 370h1v415h-1zM1069 380h1v373h-1zM1070 367h1v470h-1zM1071 359h1v503h-1zM1076 354h1v295h-1zM1077 360h1v502h-1zM1078 385h1v511h-1zM1080 349h1v340h-1zM1081 339h1v455h-1zM1082 322h1v574h-1zM1083 313h1v288h-1zM1085 317h1v354h-1zM1089 318h1v477h-1zM1090 299h1v512h-1zM1091 301h1v595h-1zM1094 285h1v611h-1zM1095 296h1v593h-1zM1099 344h1v345h-1zM1100 504h1v179h-1zM1101 502h1v148h-1zM1103 421h1v349h-1zM1104 415h1v481h-1zM1109 395h1v214h-1zM1110 390h1v428h-1zM1114 383h1v296h-1zM1115 391h1v494h-1zM1116 370h1v306h-1zM1120 371h1v295h-1zM1121 374h1v522h-1zM1122 361h1v535h-1zM1126 362h1v355h-1zM1127 364h1v530h-1zM1128 369h1v452h-1zM1129 383h1v220h-1zM1131 379h1v517h-1zM1136 380h1v516h-1zM1137 537h1v239h-1zM1138 539h1v357h-1zM1143 391h1v209h-1zM1144 381h1v515h-1zM1145 376h1v517h-1zM1147 359h1v353h-1zM1148 356h1v227h-1zM1149 359h1v535h-1zM1151 368h1v528h-1zM1152 344h1v366h-1zM1154 345h1v551h-1zM1155 341h1v555h-1zM1157 359h1v537h-1zM1163 372h1v524h-1zM1165 392h1v287h-1zM1166 407h1v489h-1zM1167 408h1v198h-1zM1170 413h1v418h-1zM1171 388h1v399h-1zM1173 388h1v484h-1zM1174 409h1v487h-1zM1175 407h1v489h-1zM1177 402h1v494h-1zM1178 416h1v250h-1zM1179 408h1v488h-1zM1182 547h1v349h-1zM1183 364h1v532h-1zM1184 340h1v555h-1zM1185 322h1v282h-1zM1188 326h1v397h-1zM1189 338h1v485h-1zM1190 333h1v563h-1zM1193 347h1v458h-1zM1195 630h1v90h-1zM1196 634h1v119h-1zM1197 634h1v262h-1zM1198 326h1v445h-1zM1199 315h1v361h-1zM1200 305h1v591h-1zM1201 324h1v570h-1zM1203 288h1v257h-1zM1205 290h1v274h-1zM1207 309h1v548h-1zM1210 349h1v497h-1zM1214 322h1v574h-1zM1215 325h1v571h-1zM1220 405h1v487h-1zM1221 298h1v598h-1zM1224 284h1v602h-1zM1227 283h1v320h-1zM1228 280h1v591h-1zM1229 285h1v305h-1zM1230 294h1v602h-1zM1231 311h1v547h-1zM1232 317h1v579h-1zM1233 325h1v486h-1zM1234 335h1v551h-1zM1235 338h1v228h-1zM1237 301h1v543h-1zM1242 260h1v636h-1zM1243 283h1v479h-1zM1244 278h1v594h-1zM1245 273h1v623h-1zM1246 254h1v642h-1zM1248 260h1v574h-1zM1249 257h1v283h-1zM1250 271h1v625h-1zM1251 287h1v609h-1zM1253 259h1v637h-1zM1254 269h1v367h-1zM1255 263h1v543h-1zM1256 244h1v331h-1zM1259 241h1v655h-1zM1260 254h1v642h-1zM1261 238h1v658h-1zM1263 251h1v645h-1zM1264 276h1v620h-1zM1268 342h1v554h-1zM1270 704h1v164h-1zM1272 338h1v558h-1zM1274 295h1v601h-1zM1275 303h1v560h-1zM1276 250h1v646h-1zM1277 244h1v594h-1zM1278 264h1v632h-1zM1281 228h1v667h-1zM1282 279h1v549h-1zM1283 223h1v673h-1zM1285 225h1v653h-1zM1286 233h1v663h-1zM1288 213h1v683h-1zM1289 235h1v495h-1zM1290 214h1v682h-1zM1293 226h1v652h-1zM1294 225h1v671h-1zM1296 223h1v673h-1zM1298 226h1v670h-1zM1300 226h1v608h-1zM1302 268h1v628h-1zM1307 274h1v336h-1zM1308 253h1v643h-1zM1311 278h1v592h-1zM1313 279h1v480h-1zM1315 260h1v636h-1zM1319 272h1v624h-1zM1322 245h1v649h-1zM1324 255h1v641h-1zM1325 230h1v618h-1zM1326 224h1v551h-1zM1329 246h1v650h-1zM1330 226h1v557h-1zM1331 242h1v654h-1zM1332 277h1v511h-1zM1335 214h1v624h-1zM1337 236h1v575h-1zM1338 233h1v633h-1zM1347 227h1v669h-1zM1349 261h1v630h-1zM1350 262h1v472h-1zM1351 247h1v487h-1zM1353 660h1v140h-1zM1354 240h1v656h-1zM1355 289h1v308h-1zM1357 292h1v604h-1zM1358 441h1v362h-1zM1360 331h1v565h-1zM1362 338h1v558h-1zM1365 321h1v575h-1zM1366 332h1v563h-1zM1367 340h1v555h-1zM1368 333h1v474h-1zM1370 343h1v542h-1zM1372 340h1v554h-1zM1373 323h1v573h-1zM1374 319h1v577h-1zM1376 315h1v282h-1zM1377 322h1v561h-1zM1378 334h1v562h-1zM1381 335h1v561h-1zM1382 346h1v302h-1zM1383 323h1v374h-1zM1386 241h1v642h-1zM1389 240h1v292h-1zM1390 238h1v658h-1zM1391 247h1v649h-1zM1395 290h1v601h-1zM1396 232h1v602h-1zM1397 245h1v651h-1zM1398 232h1v324h-1zM1399 228h1v618h-1zM1402 231h1v636h-1zM1403 240h1v514h-1zM1407 264h1v632h-1zM1408 235h1v661h-1zM1409 232h1v657h-1zM1410 256h1v426h-1zM1411 264h1v302h-1zM1412 252h1v494h-1zM1415 256h1v640h-1zM1417 284h1v612h-1zM1418 283h1v537h-1zM1419 270h1v335h-1zM1420 294h1v602h-1zM1421 280h1v586h-1zM1422 287h1v609h-1zM1423 273h1v623h-1zM1425 267h1v629h-1zM1426 263h1v633h-1zM1429 279h1v326h-1zM1430 257h1v442h-1zM1431 269h1v448h-1zM1432 275h1v572h-1zM1433 258h1v638h-1zM1436 251h1v645h-1zM1439 276h1v346h-1zM1441 246h1v650h-1zM1442 250h1v646h-1zM1443 267h1v622h-1zM1444 228h1v668h-1zM1447 223h1v499h-1zM1451 214h1v320h-1zM1454 215h1v680h-1zM1455 194h1v532h-1zM1457 215h1v539h-1zM1458 208h1v688h-1zM1461 190h1v393h-1zM1463 240h1v656h-1zM1465 194h1v702h-1zM1467 199h1v696h-1zM1468 188h1v708h-1zM1471 189h1v657h-1zM1472 187h1v709h-1zM1474 196h1v700h-1zM1475 208h1v669h-1zM1477 178h1v574h-1zM1478 187h1v679h-1zM1479 192h1v591h-1zM1480 179h1v702h-1zM1481 173h1v723h-1zM1484 201h1v366h-1zM1486 194h1v557h-1zM1488 168h1v292h-1zM1490 176h1v649h-1zM1494 183h1v395h-1zM1496 527h1v96h-1zM1497 537h1v130h-1zM1498 155h1v677h-1zM1501 149h1v545h-1zM1503 154h1v742h-1zM1504 146h1v750h-1zM1506 167h1v702h-1zM1507 165h1v722h-1zM1509 151h1v743h-1zM1510 162h1v592h-1zM1511 143h1v581h-1zM1512 160h1v736h-1zM1513 161h1v735h-1zM1514 164h1v732h-1zM1515 173h1v523h-1zM1516 196h1v700h-1zM1521 154h1v683h-1zM1522 141h1v755h-1zM1523 150h1v303h-1zM1526 155h1v741h-1zM1528 180h1v716h-1zM1531 202h1v694h-1zM1532 206h1v690h-1zM1536 153h1v743h-1zM1537 153h1v743h-1zM1538 245h1v651h-1zM1541 338h1v323h-1zM1542 325h1v571h-1zM1543 327h1v406h-1zM1544 352h1v222h-1zM1545 528h1v363h-1zM1547 335h1v457h-1zM1549 381h1v473h-1zM1555 354h1v405h-1zM1556 333h1v551h-1zM1557 325h1v505h-1zM1559 308h1v510h-1zM1560 204h1v354h-1zM1561 130h1v624h-1zM1562 137h1v759h-1zM1565 116h1v608h-1zM1566 111h1v785h-1zM1567 112h1v690h-1zM1568 120h1v669h-1zM1571 117h1v779h-1zM1572 138h1v711h-1zM1576 138h1v560h-1zM1577 123h1v739h-1zM1579 133h1v641h-1zM1580 137h1v514h-1zM1581 127h1v769h-1zM1582 185h1v680h-1zM1583 349h1v547h-1zM1584 341h1v369h-1zM1589 283h1v613h-1zM1590 298h1v264h-1zM1591 295h1v588h-1zM1592 282h1v614h-1zM1593 305h1v303h-1zM1594 290h1v606h-1zM1595 298h1v598h-1zM1599 284h1v446h-1zM1601 279h1v607h-1zM1603 266h1v394h-1zM1604 231h1v665h-1zM1605 169h1v727h-1zM1606 126h1v770h-1zM1610 139h1v571h-1zM1611 131h1v755h-1zM1615 141h1v755h-1zM1616 137h1v759h-1zM1621 158h1v538h-1zM1622 149h1v669h-1zM1623 150h1v746h-1zM1624 184h1v542h-1zM1627 160h1v728h-1zM1628 185h1v711h-1zM1629 166h1v522h-1zM1630 183h1v679h-1zM1631 153h1v743h-1zM1632 201h1v691h-1zM1633 688h1v208h-1zM1634 162h1v670h-1zM1636 152h1v661h-1zM1638 190h1v458h-1zM1639 156h1v679h-1zM1643 188h1v705h-1zM1644 171h1v723h-1zM1650 171h1v537h-1zM1651 184h1v687h-1zM1653 157h1v523h-1zM1654 164h1v732h-1zM1656 158h1v700h-1zM1657 169h1v726h-1zM1658 175h1v721h-1zM1661 156h1v740h-1zM1662 175h1v337h-1zM1663 176h1v630h-1zM1665 189h1v707h-1zM1668 169h1v701h-1zM1670 201h1v605h-1zM1672 224h1v355h-1zM1674 173h1v522h-1zM1675 173h1v591h-1zM1676 159h1v737h-1zM1677 164h1v643h-1zM1678 158h1v738h-1zM1683 194h1v702h-1zM1685 176h1v621h-1zM1686 198h1v660h-1zM1688 160h1v736h-1zM1689 202h1v694h-1zM1690 159h1v734h-1zM1691 167h1v729h-1zM1695 171h1v725h-1zM1696 177h1v536h-1zM1697 177h1v719h-1zM1698 178h1v718h-1zM1701 167h1v729h-1zM1702 167h1v729h-1zM1703 151h1v745h-1zM1705 197h1v391h-1zM1706 207h1v429h-1zM1707 147h1v580h-1zM1708 172h1v638h-1zM1709 249h1v647h-1zM1710 180h1v327h-1zM1712 146h1v468h-1zM1713 149h1v747h-1zM1719 169h1v540h-1zM1720 165h1v624h-1zM1721 209h1v687h-1zM1723 217h1v328h-1zM1725 175h1v584h-1zM1726 165h1v590h-1zM1728 195h1v665h-1zM1729 174h1v549h-1zM1731 162h1v734h-1zM1732 178h1v718h-1zM1734 180h1v716h-1zM1736 155h1v580h-1zM1737 177h1v653h-1zM1741 150h1v739h-1zM1742 145h1v671h-1zM1743 157h1v540h-1zM1744 152h1v744h-1zM1749 146h1v722h-1zM1751 168h1v659h-1zM1752 166h1v730h-1zM1753 158h1v733h-1zM1754 147h1v749h-1zM1757 158h1v738h-1zM1758 153h1v743h-1zM1759 155h1v501h-1zM1760 172h1v724h-1zM1761 176h1v720h-1zM1762 169h1v684h-1zM1763 159h1v737h-1zM1765 158h1v738h-1zM1769 172h1v468h-1zM1772 159h1v434h-1zM1774 141h1v755h-1zM1775 145h1v679h-1zM1777 168h1v728h-1zM1780 153h1v742h-1zM1783 136h1v649h-1zM1784 158h1v738h-1zM1785 156h1v600h-1zM1787 197h1v699h-1zM1788 138h1v607h-1zM1789 203h1v693h-1zM1790 153h1v743h-1zM1791 162h1v646h-1zM1792 144h1v690h-1zM1793 163h1v657h-1zM1795 149h1v643h-1zM1796 135h1v712h-1zM1798 150h1v337h-1zM1801 135h1v761h-1zM1804 142h1v754h-1zM1805 146h1v401h-1zM1809 164h1v724h-1zM1811 137h1v759h-1zM1812 169h1v615h-1zM1814 169h1v694h-1zM1815 145h1v645h-1zM1816 141h1v755h-1zM1819 140h1v756h-1zM1823 169h1v358h-1zM1824 178h1v718h-1zM1825 143h1v753h-1zM1827 145h1v459h-1zM1829 170h1v714h-1zM1830 163h1v733h-1zM1832 161h1v589h-1zM1833 200h1v519h-1zM1834 203h1v672h-1zM1835 186h1v708h-1zM1838 201h1v671h-1zM1839 210h1v638h-1zM1841 214h1v570h-1zM1843 222h1v600h-1zM1844 232h1v623h-1zM1845 227h1v669h-1zM1846 230h1v666h-1zM1847 205h1v651h-1zM1848 240h1v656h-1zM1850 551h1v272h-1zM1851 243h1v653h-1zM1852 242h1v615h-1zM1853 227h1v669h-1zM1856 254h1v642h-1zM1857 231h1v640h-1zM1858 243h1v342h-1zM1861 402h1v494h-1zM1862 393h1v503h-1zM1864 194h1v642h-1zM1865 181h1v659h-1zM1870 173h1v723h-1zM1875 196h1v550h-1zM1876 175h1v721h-1zM1878 169h1v481h-1zM1881 194h1v690h-1zM1883 185h1v711h-1zM1887 184h1v712h-1zM1888 189h1v652h-1zM1890 248h1v429h-1zM1891 246h1v650h-1zM1892 203h1v390h-1zM1893 200h1v696h-1zM1894 217h1v607h-1zM1898 310h1v579h-1zM1900 307h1v589h-1zM1901 195h1v701h-1zM1903 316h1v578h-1zM1906 317h1v575h-1zM1907 210h1v647h-1zM1908 263h1v633h-1zM1909 280h1v616h-1zM1911 220h1v676h-1zM1914 249h1v303h-1zM1915 273h1v583h-1zM1916 310h1v543h-1zM1920 258h1v638h-1zM1921 255h1v552h-1zM1922 238h1v658h-1zM1924 243h1v465h-1zM1925 306h1v590h-1zM1926 251h1v599h-1zM1932 267h1v629h-1zM1934 286h1v610h-1zM1938 509h1v387h-1zM1940 275h1v621h-1zM1942 376h1v520h-1zM1943 240h1v440h-1zM1944 264h1v312h-1zM1945 300h1v596h-1zM1946 244h1v531h-1zM1947 248h1v623h-1zM1948 253h1v584h-1zM1951 255h1v641h-1zM1952 246h1v650h-1zM1953 244h1v631h-1zM1955 276h1v620h-1zM1956 260h1v324h-1zM1957 265h1v531h-1zM1958 250h1v541h-1zM1959 262h1v634h-1zM1960 264h1v256h-1zM1961 245h1v538h-1zM1962 271h1v625h-1zM1963 304h1v592h-1zM1964 253h1v602h-1zM1971 290h1v602h-1zM1973 244h1v386h-1zM1976 242h1v373h-1zM1977 244h1v618h-1zM1978 245h1v618h-1zM1979 246h1v636h-1zM1980 251h1v488h-1zM1981 269h1v627h-1zM1983 258h1v581h-1zM1984 290h1v263h-1zM1987 310h1v496h-1zM1988 287h1v289h-1zM1990 312h1v441h-1zM1994 278h1v338h-1zM1995 260h1v625h-1zM1996 270h1v626h-1zM1997 258h1v638h-1zM1999 280h1v616h-1zM2000 261h1v485h-1zM2001 281h1v615h-1zM2002 266h1v630h-1zM2004 532h1v226h-1zM2007 257h1v639h-1zM2008 282h1v452h-1zM2009 310h1v335h-1zM2010 257h1v387h-1zM2011 254h1v442h-1zM2012 263h1v517h-1zM2017 276h1v507h-1zM2020 278h1v615h-1zM2021 276h1v620h-1zM2023 263h1v633h-1zM2024 252h1v325h-1zM2025 279h1v617h-1zM2026 260h1v636h-1zM2027 276h1v363h-1zM2028 280h1v616h-1zM2032 269h1v383h-1zM2033 269h1v455h-1zM2036 250h1v646h-1zM2037 263h1v633h-1zM2038 247h1v565h-1zM2039 267h1v533h-1zM2040 246h1v650h-1zM2041 269h1v627h-1zM2044 273h1v623h-1zM2046 257h1v611h-1zM2047 256h1v586h-1z"/><path fill-opacity="0.68" d="M113 895h1v1h-1zM158 894h1v2h-1zM275 893h1v3h-1zM283 893h1v3h-1zM316 892h1v4h-1zM327 892h1v3h-1zM347 892h1v4h-1zM386 889h1v3h-1zM464 847h1v49h-1zM498 851h1v32h-1zM559 806h1v58h-1zM577 793h1v103h-1zM628 754h1v142h-1zM669 734h1v106h-1zM722 666h1v230h-1zM750 631h1v265h-1zM772 615h1v281h-1zM792 608h1v186h-1zM844 590h1v306h-1zM945 557h1v339h-1zM973 520h1v376h-1zM986 487h1v409h-1zM993 473h1v382h-1zM1008 461h1v345h-1zM1013 462h1v434h-1zM1017 452h1v334h-1zM1026 433h1v463h-1zM1056 407h1v393h-1zM1093 284h1v502h-1zM1135 368h1v512h-1zM1159 352h1v544h-1zM1161 376h1v520h-1zM1305 241h1v588h-1zM1318 251h1v645h-1zM1388 254h1v535h-1zM1435 269h1v627h-1zM1453 221h1v606h-1zM1470 192h1v704h-1zM1534 400h1v496h-1zM1540 341h1v292h-1zM1554 349h1v547h-1zM1564 117h1v684h-1zM1609 151h1v745h-1zM1613 151h1v745h-1zM1646 172h1v724h-1zM1680 193h1v616h-1zM1700 158h1v409h-1zM1739 198h1v698h-1zM1771 140h1v704h-1zM1803 149h1v313h-1zM1821 161h1v735h-1zM1855 260h1v623h-1zM1867 176h1v720h-1zM1872 194h1v442h-1zM1886 211h1v659h-1zM1918 413h1v483h-1zM1931 298h1v428h-1zM1936 303h1v593h-1zM1967 243h1v436h-1zM2006 275h1v478h-1z"/><path fill-opacity="0.72" d="M94 895h1v1h-1zM95 895h1v1h-1zM96 895h1v1h-1zM98 895h1v1h-1zM99 895h1v1h-1zM104 895h1v1h-1zM105 895h1v1h-1zM108 894h1v2h-1zM120 894h1v2h-1zM122 894h1v2h-1zM126 895h1v1h-1zM131 894h1v2h-1zM137 895h1v1h-1zM138 895h1v1h-1zM147 894h1v2h-1zM148 894h1v2h-1zM149 894h1v2h-1zM151 894h1v2h-1zM152 894h1v2h-1zM162 894h1v2h-1zM166 894h1v2h-1zM173 895h1v1h-1zM174 894h1v2h-1zM178 894h1v2h-1zM181 894h1v2h-1zM194 893h1v3h-1zM195 894h1v2h-1zM196 894h1v2h-1zM198 894h1v2h-1zM202 893h1v3h-1zM203 894h1v2h-1zM212 893h1v3h-1zM213 893h1v3h-1zM218 894h1v2h-1zM227 893h1v3h-1zM237 894h1v2h-1zM240 894h1v2h-1zM246 893h1v3h-1zM256 893h1v3h-1zM259 893h1v3h-1zM264 893h1v3h-1zM270 893h1v3h-1zM271 892h1v4h-1zM276 893h1v3h-1zM278 892h1v4h-1zM288 893h1v3h-1zM290 892h1v4h-1zM300 892h1v3h-1zM301 892h1v4h-1zM302 892h1v4h-1zM319 892h1v4h-1zM325 893h1v3h-1zM343 892h1v3h-1zM344 892h1v4h-1zM354 892h1v4h-1zM362 891h1v5h-1zM364 891h1v5h-1zM366 890h1v6h-1zM372 891h1v3h-1zM381 889h1v3h-1zM382 890h1v4h-1zM387 889h1v7h-1zM392 889h1v6h-1zM393 889h1v7h-1zM398 888h1v8h-1zM399 889h1v7h-1zM402 887h1v8h-1zM404 888h1v5h-1zM418 882h1v6h-1zM426 880h1v7h-1zM429 879h1v15h-1zM431 876h1v14h-1zM433 876h1v20h-1zM448 864h1v32h-1zM456 856h1v16h-1zM457 855h1v38h-1zM462 849h1v28h-1zM466 843h1v39h-1zM469 839h1v57h-1zM479 824h1v72h-1zM480 823h1v71h-1zM481 821h1v75h-1zM484 817h1v41h-1zM485 816h1v80h-1zM499 850h1v35h-1zM506 846h1v49h-1zM509 842h1v50h-1zM511 840h1v45h-1zM514 839h1v57h-1zM523 835h1v60h-1zM525 833h1v51h-1zM529 831h1v65h-1zM531 827h1v69h-1zM540 815h1v81h-1zM549 809h1v56h-1zM550 810h1v86h-1zM555 807h1v89h-1zM574 794h1v96h-1zM579 790h1v106h-1zM581 789h1v107h-1zM582 791h1v105h-1zM583 791h1v94h-1zM584 790h1v106h-1zM586 789h1v99h-1zM592 779h1v117h-1zM593 780h1v116h-1zM594 780h1v116h-1zM598 778h1v67h-1zM599 775h1v106h-1zM600 773h1v123h-1zM603 770h1v75h-1zM630 754h1v137h-1zM631 753h1v99h-1zM633 752h1v136h-1zM641 748h1v148h-1zM642 746h1v143h-1zM652 744h1v152h-1zM653 740h1v105h-1zM662 737h1v159h-1zM666 735h1v161h-1zM667 734h1v162h-1zM674 727h1v142h-1zM683 716h1v180h-1zM686 714h1v182h-1zM694 704h1v192h-1zM697 701h1v195h-1zM699 697h1v199h-1zM701 696h1v200h-1zM706 688h1v182h-1zM707 685h1v211h-1zM708 684h1v212h-1zM710 683h1v112h-1zM711 685h1v210h-1zM723 669h1v222h-1zM727 658h1v218h-1zM729 656h1v230h-1zM730 657h1v148h-1zM732 652h1v235h-1zM736 649h1v224h-1zM737 643h1v218h-1zM740 644h1v252h-1zM743 648h1v245h-1zM747 632h1v264h-1zM752 629h1v267h-1zM753 628h1v245h-1zM758 626h1v270h-1zM759 624h1v272h-1zM773 615h1v281h-1zM784 608h1v120h-1zM799 612h1v123h-1zM800 608h1v262h-1zM811 600h1v244h-1zM813 677h1v219h-1zM828 600h1v296h-1zM831 597h1v292h-1zM836 593h1v158h-1zM841 593h1v303h-1zM845 590h1v248h-1zM846 589h1v237h-1zM847 588h1v308h-1zM860 582h1v255h-1zM862 579h1v265h-1zM865 580h1v316h-1zM866 575h1v193h-1zM867 573h1v307h-1zM869 572h1v315h-1zM871 570h1v326h-1zM873 574h1v322h-1zM875 569h1v143h-1zM880 570h1v326h-1zM881 565h1v146h-1zM884 568h1v316h-1zM898 557h1v330h-1zM903 554h1v342h-1zM905 553h1v274h-1zM911 551h1v279h-1zM913 549h1v347h-1zM923 557h1v324h-1zM937 641h1v252h-1zM942 557h1v334h-1zM947 553h1v171h-1zM950 561h1v334h-1zM953 634h1v262h-1zM961 545h1v260h-1zM963 549h1v192h-1zM964 541h1v355h-1zM983 492h1v404h-1zM987 482h1v414h-1zM988 484h1v412h-1zM990 476h1v229h-1zM991 491h1v309h-1zM994 469h1v245h-1zM996 467h1v429h-1zM1002 490h1v347h-1zM1009 465h1v431h-1zM1022 457h1v439h-1zM1023 462h1v434h-1zM1024 438h1v196h-1zM1029 431h1v220h-1zM1030 430h1v212h-1zM1042 430h1v466h-1zM1043 411h1v472h-1zM1044 412h1v475h-1zM1045 404h1v417h-1zM1046 405h1v491h-1zM1049 401h1v465h-1zM1052 415h1v481h-1zM1053 402h1v487h-1zM1057 398h1v498h-1zM1059 408h1v250h-1zM1061 408h1v413h-1zM1065 392h1v504h-1zM1073 362h1v534h-1zM1074 354h1v542h-1zM1075 354h1v542h-1zM1084 336h1v560h-1zM1086 325h1v532h-1zM1087 327h1v554h-1zM1088 327h1v569h-1zM1096 333h1v563h-1zM1097 324h1v486h-1zM1098 327h1v446h-1zM1102 505h1v353h-1zM1105 407h1v489h-1zM1106 410h1v486h-1zM1108 405h1v307h-1zM1112 528h1v205h-1zM1113 386h1v231h-1zM1117 369h1v252h-1zM1119 372h1v264h-1zM1124 363h1v316h-1zM1125 364h1v320h-1zM1130 384h1v512h-1zM1133 383h1v513h-1zM1139 454h1v442h-1zM1141 373h1v431h-1zM1150 354h1v542h-1zM1153 353h1v543h-1zM1168 412h1v484h-1zM1169 401h1v259h-1zM1172 390h1v505h-1zM1180 548h1v317h-1zM1181 550h1v346h-1zM1186 329h1v567h-1zM1187 348h1v414h-1zM1191 329h1v567h-1zM1192 331h1v565h-1zM1194 631h1v166h-1zM1202 292h1v604h-1zM1204 292h1v604h-1zM1206 318h1v467h-1zM1208 327h1v569h-1zM1211 348h1v548h-1zM1213 350h1v546h-1zM1217 307h1v589h-1zM1218 291h1v603h-1zM1219 304h1v421h-1zM1222 279h1v617h-1zM1225 277h1v619h-1zM1226 275h1v337h-1zM1236 311h1v585h-1zM1238 303h1v588h-1zM1240 282h1v613h-1zM1247 268h1v594h-1zM1257 239h1v655h-1zM1258 234h1v461h-1zM1262 227h1v326h-1zM1265 308h1v588h-1zM1267 361h1v507h-1zM1271 709h1v177h-1zM1280 229h1v667h-1zM1284 370h1v126h-1zM1291 243h1v653h-1zM1292 224h1v672h-1zM1299 249h1v647h-1zM1301 237h1v280h-1zM1303 239h1v637h-1zM1306 243h1v653h-1zM1309 317h1v294h-1zM1310 255h1v641h-1zM1312 316h1v494h-1zM1316 275h1v466h-1zM1321 263h1v597h-1zM1328 223h1v581h-1zM1333 217h1v679h-1zM1334 241h1v655h-1zM1340 239h1v648h-1zM1341 237h1v622h-1zM1342 243h1v621h-1zM1344 251h1v645h-1zM1345 227h1v589h-1zM1352 670h1v226h-1zM1356 255h1v320h-1zM1359 331h1v350h-1zM1364 327h1v411h-1zM1369 328h1v510h-1zM1371 322h1v492h-1zM1375 318h1v538h-1zM1380 332h1v518h-1zM1384 276h1v306h-1zM1393 248h1v639h-1zM1400 268h1v232h-1zM1401 253h1v475h-1zM1404 246h1v609h-1zM1405 246h1v300h-1zM1413 275h1v621h-1zM1424 304h1v592h-1zM1427 266h1v630h-1zM1428 284h1v612h-1zM1438 299h1v597h-1zM1440 243h1v508h-1zM1445 226h1v497h-1zM1446 234h1v546h-1zM1448 222h1v674h-1zM1450 236h1v660h-1zM1456 191h1v445h-1zM1460 215h1v681h-1zM1476 200h1v318h-1zM1483 164h1v619h-1zM1487 179h1v502h-1zM1489 160h1v666h-1zM1491 171h1v621h-1zM1493 152h1v368h-1zM1499 171h1v617h-1zM1502 174h1v490h-1zM1508 219h1v590h-1zM1518 160h1v413h-1zM1519 155h1v664h-1zM1524 142h1v754h-1zM1527 162h1v469h-1zM1529 226h1v670h-1zM1530 233h1v656h-1zM1548 347h1v407h-1zM1551 324h1v254h-1zM1552 335h1v561h-1zM1569 129h1v388h-1zM1574 145h1v751h-1zM1575 139h1v757h-1zM1585 297h1v409h-1zM1586 283h1v493h-1zM1587 293h1v603h-1zM1588 279h1v610h-1zM1597 289h1v607h-1zM1598 288h1v608h-1zM1600 299h1v597h-1zM1607 142h1v754h-1zM1614 147h1v588h-1zM1617 166h1v730h-1zM1618 154h1v477h-1zM1620 160h1v459h-1zM1626 164h1v488h-1zM1635 163h1v703h-1zM1637 146h1v312h-1zM1641 166h1v730h-1zM1642 201h1v695h-1zM1647 160h1v736h-1zM1648 339h1v557h-1zM1655 160h1v485h-1zM1659 167h1v729h-1zM1664 190h1v636h-1zM1666 168h1v728h-1zM1671 285h1v182h-1zM1682 200h1v672h-1zM1684 291h1v605h-1zM1687 184h1v649h-1zM1692 166h1v682h-1zM1694 174h1v424h-1zM1704 177h1v655h-1zM1714 151h1v606h-1zM1715 158h1v738h-1zM1716 171h1v725h-1zM1718 161h1v735h-1zM1722 225h1v348h-1zM1724 169h1v581h-1zM1727 163h1v621h-1zM1740 152h1v744h-1zM1745 147h1v663h-1zM1746 145h1v704h-1zM1748 147h1v749h-1zM1750 157h1v373h-1zM1756 192h1v443h-1zM1764 156h1v598h-1zM1766 161h1v735h-1zM1767 137h1v759h-1zM1779 141h1v687h-1zM1781 143h1v363h-1zM1782 150h1v746h-1zM1794 151h1v745h-1zM1797 145h1v751h-1zM1799 154h1v742h-1zM1806 163h1v733h-1zM1807 143h1v731h-1zM1808 139h1v693h-1zM1813 162h1v657h-1zM1818 166h1v730h-1zM1826 158h1v729h-1zM1828 176h1v344h-1zM1836 192h1v704h-1zM1837 210h1v367h-1zM1840 200h1v677h-1zM1859 240h1v619h-1zM1863 393h1v396h-1zM1869 179h1v561h-1zM1874 173h1v723h-1zM1877 169h1v727h-1zM1879 186h1v710h-1zM1880 173h1v615h-1zM1884 204h1v638h-1zM1895 317h1v561h-1zM1896 323h1v573h-1zM1897 203h1v693h-1zM1902 316h1v580h-1zM1904 206h1v690h-1zM1910 223h1v670h-1zM1913 236h1v660h-1zM1919 280h1v259h-1zM1923 267h1v629h-1zM1927 261h1v539h-1zM1928 270h1v621h-1zM1929 263h1v633h-1zM1950 306h1v219h-1zM1965 245h1v651h-1zM1968 262h1v605h-1zM1969 270h1v626h-1zM1972 265h1v317h-1zM1974 244h1v652h-1zM1975 269h1v589h-1zM1985 256h1v640h-1zM1991 263h1v475h-1zM1992 293h1v603h-1zM1998 263h1v447h-1zM2003 270h1v331h-1zM2013 275h1v618h-1zM2014 259h1v637h-1zM2015 264h1v625h-1zM2019 275h1v597h-1zM2030 265h1v574h-1zM2034 264h1v405h-1zM2042 305h1v553h-1zM2043 251h1v645h-1z"/><path fill-opacity="0.88" d="M298 894h1v2h-1zM299 895h1v1h-1zM300 895h1v1h-1zM303 894h1v2h-1zM307 894h1v2h-1zM309 895h1v1h-1zM312 895h1v1h-1zM314 895h1v1h-1zM318 895h1v1h-1zM320 894h1v2h-1zM323 895h1v1h-1zM324 894h1v2h-1zM327 895h1v1h-1zM329 894h1v2h-1zM331 895h1v1h-1zM337 894h1v2h-1zM338 895h1v1h-1zM340 894h1v2h-1zM341 895h1v1h-1zM343 895h1v1h-1zM350 895h1v1h-1zM351 895h1v1h-1zM352 895h1v1h-1zM353 894h1v2h-1zM358 894h1v2h-1zM361 895h1v1h-1zM365 894h1v2h-1zM367 895h1v1h-1zM369 893h1v3h-1zM370 893h1v3h-1zM372 894h1v2h-1zM373 893h1v3h-1zM374 894h1v2h-1zM376 894h1v2h-1zM381 892h1v4h-1zM382 894h1v2h-1zM383 895h1v1h-1zM385 894h1v2h-1zM386 892h1v4h-1zM388 893h1v3h-1zM390 892h1v4h-1zM391 894h1v2h-1zM392 895h1v1h-1zM395 893h1v3h-1zM400 894h1v2h-1zM402 895h1v1h-1zM403 891h1v5h-1zM404 893h1v3h-1zM406 893h1v3h-1zM407 895h1v1h-1zM408 889h1v7h-1zM412 894h1v2h-1zM414 890h1v6h-1zM416 890h1v6h-1zM418 888h1v8h-1zM422 895h1v1h-1zM424 893h1v3h-1zM426 887h1v9h-1zM427 893h1v3h-1zM428 892h1v4h-1zM429 894h1v2h-1zM430 893h1v3h-1zM431 890h1v6h-1zM434 891h1v5h-1zM435 893h1v3h-1zM436 893h1v3h-1zM437 892h1v4h-1zM438 889h1v7h-1zM439 889h1v7h-1zM440 892h1v4h-1zM441 883h1v13h-1zM443 880h1v16h-1zM444 890h1v6h-1zM446 879h1v17h-1zM451 890h1v6h-1zM452 894h1v2h-1zM456 872h1v24h-1zM457 893h1v3h-1zM458 892h1v4h-1zM459 895h1v1h-1zM461 887h1v9h-1zM462 877h1v19h-1zM465 872h1v24h-1zM466 882h1v14h-1zM467 894h1v2h-1zM468 883h1v13h-1zM472 879h1v17h-1zM473 875h1v21h-1zM476 888h1v8h-1zM477 879h1v17h-1zM478 893h1v3h-1zM480 894h1v2h-1zM482 893h1v3h-1zM483 882h1v14h-1zM484 858h1v38h-1zM492 888h1v8h-1zM496 889h1v7h-1zM498 883h1v13h-1zM499 885h1v11h-1zM500 885h1v11h-1zM504 890h1v6h-1zM506 895h1v1h-1zM509 892h1v4h-1zM511 885h1v11h-1zM513 872h1v24h-1zM516 890h1v6h-1zM517 891h1v5h-1zM519 886h1v10h-1zM521 887h1v9h-1zM522 864h1v32h-1zM523 895h1v1h-1zM525 884h1v12h-1zM526 894h1v2h-1zM527 867h1v29h-1zM535 886h1v10h-1zM536 863h1v33h-1zM538 883h1v13h-1zM541 885h1v11h-1zM542 892h1v4h-1zM544 894h1v2h-1zM545 895h1v1h-1zM547 880h1v16h-1zM549 865h1v31h-1zM552 870h1v26h-1zM557 878h1v18h-1zM559 864h1v32h-1zM561 849h1v47h-1zM562 894h1v2h-1zM564 887h1v9h-1zM569 889h1v7h-1zM570 877h1v19h-1zM571 876h1v20h-1zM572 850h1v46h-1zM574 890h1v6h-1zM576 852h1v44h-1zM583 885h1v11h-1zM585 893h1v3h-1zM586 888h1v8h-1zM588 848h1v48h-1zM590 860h1v36h-1zM591 829h1v67h-1zM596 880h1v16h-1zM597 860h1v36h-1zM598 845h1v51h-1zM599 881h1v15h-1zM601 862h1v34h-1zM602 889h1v7h-1zM603 845h1v51h-1zM606 894h1v2h-1zM607 883h1v13h-1zM610 872h1v24h-1zM611 833h1v63h-1zM612 890h1v6h-1zM614 850h1v46h-1zM615 850h1v46h-1zM618 894h1v2h-1zM619 892h1v4h-1zM620 833h1v63h-1zM621 877h1v19h-1zM622 885h1v11h-1zM623 887h1v9h-1zM624 840h1v56h-1zM625 853h1v43h-1zM626 867h1v29h-1zM630 891h1v5h-1zM631 852h1v44h-1zM632 870h1v26h-1zM633 888h1v8h-1zM634 867h1v29h-1zM635 891h1v5h-1zM636 841h1v55h-1zM637 868h1v28h-1zM638 845h1v51h-1zM639 839h1v57h-1zM640 844h1v52h-1zM642 889h1v7h-1zM643 891h1v5h-1zM644 855h1v41h-1zM646 859h1v37h-1zM647 876h1v20h-1zM648 874h1v22h-1zM653 845h1v51h-1zM654 858h1v38h-1zM656 888h1v8h-1zM659 877h1v19h-1zM661 880h1v16h-1zM663 886h1v10h-1zM668 874h1v22h-1zM669 840h1v56h-1zM670 885h1v11h-1zM671 877h1v19h-1zM673 849h1v47h-1zM674 869h1v27h-1zM676 842h1v54h-1zM677 891h1v5h-1zM679 891h1v5h-1zM684 891h1v5h-1zM685 894h1v2h-1zM689 888h1v8h-1zM692 856h1v40h-1zM702 872h1v24h-1zM703 870h1v26h-1zM704 892h1v4h-1zM705 805h1v91h-1zM706 870h1v26h-1zM710 795h1v101h-1zM711 895h1v1h-1zM712 809h1v87h-1zM713 893h1v3h-1zM715 853h1v43h-1zM719 887h1v9h-1zM723 891h1v5h-1zM724 850h1v46h-1zM725 894h1v2h-1zM726 829h1v67h-1zM727 876h1v20h-1zM728 789h1v107h-1zM729 886h1v10h-1zM730 805h1v91h-1zM731 847h1v49h-1zM732 887h1v9h-1zM733 866h1v30h-1zM734 884h1v12h-1zM735 851h1v45h-1zM736 873h1v23h-1zM737 861h1v35h-1zM743 893h1v3h-1zM744 742h1v154h-1zM746 867h1v29h-1zM748 807h1v89h-1zM749 850h1v46h-1zM751 843h1v53h-1zM753 873h1v23h-1zM754 804h1v92h-1zM756 826h1v70h-1zM760 819h1v77h-1zM761 809h1v87h-1zM762 892h1v4h-1zM763 844h1v52h-1zM764 744h1v152h-1zM769 874h1v22h-1zM770 878h1v18h-1zM774 750h1v146h-1zM775 757h1v139h-1zM778 789h1v107h-1zM779 842h1v54h-1zM780 758h1v138h-1zM781 819h1v77h-1zM784 728h1v168h-1zM785 809h1v87h-1zM787 880h1v16h-1zM789 746h1v150h-1zM790 877h1v19h-1zM791 829h1v67h-1zM792 794h1v102h-1zM793 864h1v32h-1zM794 876h1v20h-1zM799 735h1v161h-1zM800 870h1v26h-1zM801 805h1v91h-1zM802 883h1v13h-1zM803 875h1v21h-1zM805 762h1v134h-1zM807 759h1v137h-1zM810 835h1v61h-1zM811 844h1v52h-1zM812 826h1v70h-1zM814 779h1v117h-1zM816 801h1v95h-1zM817 831h1v65h-1zM818 875h1v21h-1zM819 746h1v150h-1zM820 735h1v161h-1zM821 866h1v30h-1zM822 795h1v101h-1zM823 815h1v81h-1zM824 830h1v66h-1zM826 864h1v32h-1zM827 872h1v24h-1zM829 745h1v151h-1zM831 889h1v7h-1zM832 835h1v61h-1zM835 778h1v118h-1zM836 751h1v145h-1zM838 840h1v56h-1zM839 770h1v126h-1zM840 760h1v136h-1zM842 786h1v110h-1zM845 838h1v58h-1zM846 826h1v70h-1zM850 778h1v118h-1zM854 734h1v162h-1zM855 831h1v65h-1zM857 864h1v32h-1zM858 887h1v9h-1zM859 797h1v99h-1zM860 837h1v59h-1zM861 894h1v2h-1zM862 844h1v52h-1zM863 873h1v23h-1zM866 768h1v128h-1zM867 880h1v16h-1zM869 887h1v9h-1zM870 890h1v6h-1zM872 886h1v10h-1zM875 712h1v184h-1zM876 849h1v47h-1zM877 864h1v32h-1zM878 772h1v124h-1zM879 808h1v88h-1zM881 711h1v185h-1zM883 717h1v179h-1zM884 884h1v12h-1zM885 870h1v26h-1zM886 793h1v103h-1zM888 887h1v9h-1zM890 729h1v167h-1zM891 754h1v142h-1zM893 863h1v33h-1zM894 845h1v51h-1zM897 805h1v91h-1zM898 887h1v9h-1zM902 771h1v125h-1zM905 827h1v69h-1zM906 696h1v200h-1zM907 787h1v109h-1zM908 894h1v2h-1zM910 877h1v19h-1zM911 830h1v66h-1zM912 859h1v37h-1zM914 827h1v69h-1zM917 885h1v11h-1zM921 889h1v7h-1zM923 881h1v15h-1zM925 757h1v139h-1zM926 844h1v52h-1zM927 719h1v177h-1zM928 882h1v14h-1zM929 879h1v17h-1zM930 716h1v180h-1zM931 721h1v175h-1zM932 874h1v22h-1zM935 842h1v54h-1zM937 893h1v3h-1zM938 819h1v77h-1zM941 893h1v3h-1zM942 891h1v5h-1zM946 873h1v23h-1zM947 724h1v172h-1zM948 837h1v59h-1zM949 785h1v111h-1zM950 895h1v1h-1zM952 826h1v70h-1zM958 879h1v17h-1zM959 829h1v67h-1zM960 735h1v161h-1zM961 805h1v91h-1zM963 741h1v155h-1zM965 858h1v38h-1zM966 755h1v141h-1zM967 857h1v39h-1zM968 708h1v188h-1zM971 894h1v2h-1zM972 795h1v101h-1zM974 803h1v93h-1zM975 891h1v5h-1zM977 700h1v196h-1zM978 817h1v79h-1zM979 884h1v12h-1zM981 740h1v156h-1zM982 782h1v114h-1zM985 833h1v63h-1zM990 705h1v191h-1zM991 800h1v96h-1zM993 855h1v41h-1zM994 714h1v182h-1zM997 851h1v45h-1zM998 893h1v3h-1zM1000 795h1v101h-1zM1002 837h1v59h-1zM1004 887h1v9h-1zM1006 829h1v67h-1zM1007 871h1v25h-1zM1008 806h1v90h-1zM1011 894h1v2h-1zM1014 885h1v11h-1zM1016 827h1v69h-1zM1017 786h1v110h-1zM1018 854h1v42h-1zM1019 759h1v137h-1zM1021 734h1v162h-1zM1024 634h1v262h-1zM1028 823h1v73h-1zM1029 651h1v245h-1zM1030 642h1v254h-1zM1032 804h1v92h-1zM1033 883h1v13h-1zM1035 849h1v47h-1zM1036 743h1v153h-1zM1037 807h1v89h-1zM1039 797h1v99h-1zM1043 883h1v13h-1zM1044 887h1v9h-1zM1045 821h1v75h-1zM1048 645h1v251h-1zM1049 866h1v30h-1zM1050 796h1v100h-1zM1053 889h1v7h-1zM1056 800h1v96h-1zM1059 658h1v238h-1zM1061 821h1v75h-1zM1063 803h1v93h-1zM1064 827h1v69h-1zM1068 785h1v111h-1zM1069 753h1v143h-1zM1070 837h1v59h-1zM1071 862h1v34h-1zM1072 734h1v162h-1zM1076 649h1v247h-1zM1077 862h1v34h-1zM1079 888h1v8h-1zM1080 689h1v207h-1zM1081 794h1v102h-1zM1083 601h1v295h-1zM1085 671h1v225h-1zM1086 857h1v39h-1zM1087 881h1v15h-1zM1089 795h1v101h-1zM1090 811h1v85h-1zM1092 679h1v217h-1zM1093 786h1v110h-1zM1095 889h1v7h-1zM1097 810h1v86h-1zM1098 773h1v123h-1zM1099 689h1v207h-1zM1100 683h1v213h-1zM1101 650h1v246h-1zM1102 858h1v38h-1zM1103 770h1v126h-1zM1108 712h1v184h-1zM1109 609h1v287h-1zM1110 818h1v78h-1zM1112 733h1v163h-1zM1113 617h1v279h-1zM1114 679h1v217h-1zM1115 885h1v11h-1zM1116 676h1v220h-1zM1117 621h1v275h-1zM1118 649h1v247h-1zM1119 636h1v260h-1zM1120 666h1v230h-1zM1123 714h1v182h-1zM1124 679h1v217h-1zM1125 684h1v212h-1zM1126 717h1v179h-1zM1127 894h1v2h-1zM1128 821h1v75h-1zM1129 603h1v293h-1zM1134 773h1v123h-1zM1135 880h1v16h-1zM1137 776h1v120h-1zM1140 696h1v200h-1zM1141 804h1v92h-1zM1142 733h1v163h-1zM1143 600h1v296h-1zM1145 893h1v3h-1zM1147 712h1v184h-1zM1148 583h1v313h-1zM1149 894h1v2h-1zM1152 710h1v186h-1zM1158 878h1v18h-1zM1160 774h1v122h-1zM1165 679h1v217h-1zM1167 606h1v290h-1zM1169 660h1v236h-1zM1170 831h1v65h-1zM1171 787h1v109h-1zM1172 895h1v1h-1zM1173 872h1v24h-1zM1176 748h1v148h-1zM1178 666h1v230h-1zM1180 865h1v31h-1zM1184 895h1v1h-1zM1185 604h1v292h-1zM1187 762h1v134h-1zM1188 723h1v173h-1zM1189 823h1v73h-1zM1193 805h1v91h-1zM1194 797h1v99h-1zM1195 720h1v176h-1zM1196 753h1v143h-1zM1198 771h1v125h-1zM1199 676h1v220h-1zM1201 894h1v2h-1zM1203 545h1v351h-1zM1205 564h1v332h-1zM1206 785h1v111h-1zM1207 857h1v39h-1zM1210 846h1v50h-1zM1212 852h1v44h-1zM1218 894h1v2h-1zM1219 725h1v171h-1zM1220 892h1v4h-1zM1223 886h1v10h-1zM1224 886h1v10h-1zM1226 612h1v284h-1zM1227 603h1v293h-1zM1228 871h1v25h-1zM1229 590h1v306h-1zM1231 858h1v38h-1zM1233 811h1v85h-1zM1234 886h1v10h-1zM1235 566h1v330h-1zM1237 844h1v52h-1zM1238 891h1v5h-1zM1239 620h1v276h-1zM1240 895h1v1h-1zM1241 862h1v34h-1zM1243 762h1v134h-1zM1244 872h1v24h-1zM1247 862h1v34h-1zM1248 834h1v62h-1zM1249 540h1v356h-1zM1254 636h1v260h-1zM1255 806h1v90h-1zM1256 575h1v321h-1zM1257 894h1v2h-1zM1258 695h1v201h-1zM1262 553h1v343h-1zM1266 763h1v133h-1zM1267 868h1v28h-1zM1269 707h1v189h-1zM1270 868h1v28h-1zM1271 886h1v10h-1zM1273 844h1v52h-1zM1275 863h1v33h-1zM1277 838h1v58h-1zM1281 895h1v1h-1zM1282 828h1v68h-1zM1284 496h1v400h-1zM1285 878h1v18h-1zM1289 730h1v166h-1zM1293 878h1v18h-1zM1297 551h1v345h-1zM1300 834h1v62h-1zM1301 517h1v379h-1zM1303 876h1v20h-1zM1304 754h1v142h-1zM1305 829h1v67h-1zM1307 610h1v286h-1zM1309 611h1v285h-1zM1311 870h1v26h-1zM1312 810h1v86h-1zM1313 759h1v137h-1zM1314 788h1v108h-1zM1316 741h1v155h-1zM1320 767h1v129h-1zM1321 860h1v36h-1zM1322 894h1v2h-1zM1323 532h1v364h-1zM1325 848h1v48h-1zM1326 775h1v121h-1zM1327 698h1v198h-1zM1328 804h1v92h-1zM1330 783h1v113h-1zM1332 788h1v108h-1zM1335 838h1v58h-1zM1336 784h1v112h-1zM1337 811h1v85h-1zM1338 866h1v30h-1zM1340 887h1v9h-1zM1341 859h1v37h-1zM1342 864h1v32h-1zM1345 816h1v80h-1zM1346 601h1v295h-1zM1348 679h1v217h-1zM1349 891h1v5h-1zM1350 734h1v162h-1zM1351 734h1v162h-1zM1353 800h1v96h-1zM1355 597h1v299h-1zM1356 575h1v321h-1zM1358 803h1v93h-1zM1359 681h1v215h-1zM1361 866h1v30h-1zM1363 894h1v2h-1zM1364 738h1v158h-1zM1366 895h1v1h-1zM1367 895h1v1h-1zM1368 807h1v89h-1zM1369 838h1v58h-1zM1370 885h1v11h-1zM1371 814h1v82h-1zM1372 894h1v2h-1zM1375 856h1v40h-1zM1376 597h1v299h-1zM1377 883h1v13h-1zM1380 850h1v46h-1zM1382 648h1v248h-1zM1383 697h1v199h-1zM1384 582h1v314h-1zM1386 883h1v13h-1zM1388 789h1v107h-1zM1389 532h1v364h-1zM1392 853h1v43h-1zM1393 887h1v9h-1zM1395 891h1v5h-1zM1396 834h1v62h-1zM1398 556h1v340h-1zM1399 846h1v50h-1zM1400 500h1v396h-1zM1401 728h1v168h-1zM1402 867h1v29h-1zM1403 754h1v142h-1zM1404 855h1v41h-1zM1405 546h1v350h-1zM1406 894h1v2h-1zM1409 889h1v7h-1zM1410 682h1v214h-1zM1411 566h1v330h-1zM1412 746h1v150h-1zM1414 884h1v12h-1zM1418 820h1v76h-1zM1419 605h1v291h-1zM1421 866h1v30h-1zM1429 605h1v291h-1zM1430 699h1v197h-1zM1431 717h1v179h-1zM1432 847h1v49h-1zM1434 720h1v176h-1zM1439 622h1v274h-1zM1440 751h1v145h-1zM1443 889h1v7h-1zM1445 723h1v173h-1zM1446 780h1v116h-1zM1447 722h1v174h-1zM1451 534h1v362h-1zM1452 524h1v372h-1zM1453 827h1v69h-1zM1454 895h1v1h-1zM1455 726h1v170h-1zM1456 636h1v260h-1zM1457 754h1v142h-1zM1459 864h1v32h-1zM1461 583h1v313h-1zM1462 868h1v28h-1zM1464 890h1v6h-1zM1467 895h1v1h-1zM1469 618h1v278h-1zM1471 846h1v50h-1zM1473 734h1v162h-1zM1475 877h1v19h-1zM1476 518h1v378h-1zM1477 752h1v144h-1zM1478 866h1v30h-1zM1479 783h1v113h-1zM1480 881h1v15h-1zM1483 783h1v113h-1zM1484 567h1v329h-1zM1486 751h1v145h-1zM1487 681h1v215h-1zM1488 460h1v436h-1zM1489 826h1v70h-1zM1490 825h1v71h-1zM1491 792h1v104h-1zM1493 520h1v376h-1zM1494 578h1v318h-1zM1496 623h1v273h-1zM1497 667h1v229h-1zM1498 832h1v64h-1zM1499 788h1v108h-1zM1501 694h1v202h-1zM1502 664h1v232h-1zM1505 865h1v31h-1zM1506 869h1v27h-1zM1507 887h1v9h-1zM1508 809h1v87h-1zM1509 894h1v2h-1zM1510 754h1v142h-1zM1511 724h1v172h-1zM1515 696h1v200h-1zM1517 718h1v178h-1zM1518 573h1v323h-1zM1519 819h1v77h-1zM1520 828h1v68h-1zM1521 837h1v59h-1zM1523 453h1v443h-1zM1527 631h1v265h-1zM1530 889h1v7h-1zM1533 893h1v3h-1zM1535 575h1v321h-1zM1540 633h1v263h-1zM1541 661h1v235h-1zM1543 733h1v163h-1zM1544 574h1v322h-1zM1545 891h1v5h-1zM1547 792h1v104h-1zM1548 754h1v142h-1zM1549 854h1v42h-1zM1550 803h1v93h-1zM1551 578h1v318h-1zM1553 617h1v279h-1zM1555 759h1v137h-1zM1556 884h1v12h-1zM1557 830h1v66h-1zM1558 858h1v38h-1zM1559 818h1v78h-1zM1560 558h1v338h-1zM1561 754h1v142h-1zM1563 746h1v150h-1zM1564 801h1v95h-1zM1565 724h1v172h-1zM1567 802h1v94h-1zM1568 789h1v107h-1zM1569 517h1v379h-1zM1570 815h1v81h-1zM1572 849h1v47h-1zM1576 698h1v198h-1zM1577 862h1v34h-1zM1578 824h1v72h-1zM1579 774h1v122h-1zM1580 651h1v245h-1zM1582 865h1v31h-1zM1584 710h1v186h-1zM1585 706h1v190h-1zM1586 776h1v120h-1zM1588 889h1v7h-1zM1590 562h1v334h-1zM1591 883h1v13h-1zM1593 608h1v288h-1zM1599 730h1v166h-1zM1601 886h1v10h-1zM1603 660h1v236h-1zM1608 765h1v131h-1zM1610 710h1v186h-1zM1611 886h1v10h-1zM1614 735h1v161h-1zM1618 631h1v265h-1zM1620 619h1v277h-1zM1621 696h1v200h-1zM1622 818h1v78h-1zM1624 726h1v170h-1zM1626 652h1v244h-1zM1627 888h1v8h-1zM1629 688h1v208h-1zM1630 862h1v34h-1zM1632 892h1v4h-1zM1634 832h1v64h-1zM1635 866h1v30h-1zM1636 813h1v83h-1zM1637 458h1v438h-1zM1638 648h1v248h-1zM1639 835h1v61h-1zM1640 830h1v66h-1zM1643 893h1v3h-1zM1644 894h1v2h-1zM1650 708h1v188h-1zM1651 871h1v25h-1zM1652 736h1v160h-1zM1653 680h1v216h-1zM1655 645h1v251h-1zM1656 858h1v38h-1zM1657 895h1v1h-1zM1660 867h1v29h-1zM1662 512h1v384h-1zM1663 806h1v90h-1zM1664 826h1v70h-1zM1668 870h1v26h-1zM1669 877h1v19h-1zM1670 806h1v90h-1zM1671 467h1v429h-1zM1672 579h1v317h-1zM1674 695h1v201h-1zM1675 764h1v132h-1zM1677 807h1v89h-1zM1679 637h1v259h-1zM1680 809h1v87h-1zM1681 640h1v256h-1zM1682 872h1v24h-1zM1685 797h1v99h-1zM1686 858h1v38h-1zM1687 833h1v63h-1zM1690 893h1v3h-1zM1692 848h1v48h-1zM1693 849h1v47h-1zM1694 598h1v298h-1zM1696 713h1v183h-1zM1700 567h1v329h-1zM1704 832h1v64h-1zM1705 588h1v308h-1zM1706 636h1v260h-1zM1707 727h1v169h-1zM1708 810h1v86h-1zM1710 507h1v389h-1zM1711 644h1v252h-1zM1712 614h1v282h-1zM1714 757h1v139h-1zM1719 709h1v187h-1zM1720 789h1v107h-1zM1722 573h1v323h-1zM1723 545h1v351h-1zM1724 750h1v146h-1zM1725 759h1v137h-1zM1726 755h1v141h-1zM1727 784h1v112h-1zM1728 860h1v36h-1zM1729 723h1v173h-1zM1733 758h1v138h-1zM1735 869h1v27h-1zM1736 735h1v161h-1zM1737 830h1v66h-1zM1738 865h1v31h-1zM1741 889h1v7h-1zM1742 816h1v80h-1zM1743 697h1v199h-1zM1745 810h1v86h-1zM1746 849h1v47h-1zM1749 868h1v28h-1zM1750 530h1v366h-1zM1751 827h1v69h-1zM1753 891h1v5h-1zM1755 799h1v97h-1zM1756 635h1v261h-1zM1759 656h1v240h-1zM1762 853h1v43h-1zM1764 754h1v142h-1zM1768 735h1v161h-1zM1769 640h1v256h-1zM1770 864h1v32h-1zM1771 844h1v52h-1zM1772 593h1v303h-1zM1775 824h1v72h-1zM1776 703h1v193h-1zM1778 841h1v55h-1zM1779 828h1v68h-1zM1780 895h1v1h-1zM1781 506h1v390h-1zM1783 785h1v111h-1zM1785 756h1v140h-1zM1786 807h1v89h-1zM1788 745h1v151h-1zM1791 808h1v88h-1zM1792 834h1v62h-1zM1793 820h1v76h-1zM1795 792h1v104h-1zM1796 847h1v49h-1zM1798 487h1v409h-1zM1800 858h1v38h-1zM1802 624h1v272h-1zM1803 462h1v434h-1zM1805 547h1v349h-1zM1807 874h1v22h-1zM1808 832h1v64h-1zM1809 888h1v8h-1zM1810 596h1v300h-1zM1812 784h1v112h-1zM1813 819h1v77h-1zM1814 863h1v33h-1zM1815 790h1v106h-1zM1817 710h1v186h-1zM1822 592h1v304h-1zM1823 527h1v369h-1zM1826 887h1v9h-1zM1827 604h1v292h-1zM1828 520h1v376h-1zM1829 884h1v12h-1zM1831 581h1v315h-1zM1832 750h1v146h-1zM1833 719h1v177h-1zM1834 875h1v21h-1zM1835 894h1v2h-1zM1837 577h1v319h-1zM1838 872h1v24h-1zM1839 848h1v48h-1zM1840 877h1v19h-1zM1841 784h1v112h-1zM1843 822h1v74h-1zM1844 855h1v41h-1zM1847 856h1v40h-1zM1850 823h1v73h-1zM1852 857h1v39h-1zM1854 699h1v197h-1zM1855 883h1v13h-1zM1857 871h1v25h-1zM1858 585h1v311h-1zM1859 859h1v37h-1zM1863 789h1v107h-1zM1864 836h1v60h-1zM1865 840h1v56h-1zM1866 681h1v215h-1zM1868 871h1v25h-1zM1869 740h1v156h-1zM1872 636h1v260h-1zM1875 746h1v150h-1zM1878 650h1v246h-1zM1880 788h1v108h-1zM1881 884h1v12h-1zM1884 842h1v54h-1zM1885 887h1v9h-1zM1886 870h1v26h-1zM1888 841h1v55h-1zM1889 550h1v346h-1zM1890 677h1v219h-1zM1892 593h1v303h-1zM1894 824h1v72h-1zM1895 878h1v18h-1zM1898 889h1v7h-1zM1899 818h1v78h-1zM1903 894h1v2h-1zM1905 713h1v183h-1zM1906 892h1v4h-1zM1907 857h1v39h-1zM1910 893h1v3h-1zM1914 552h1v344h-1zM1915 856h1v40h-1zM1916 853h1v43h-1zM1917 891h1v5h-1zM1919 539h1v357h-1zM1921 807h1v89h-1zM1924 708h1v188h-1zM1926 850h1v46h-1zM1927 800h1v96h-1zM1928 891h1v5h-1zM1930 891h1v5h-1zM1931 726h1v170h-1zM1933 894h1v2h-1zM1935 757h1v139h-1zM1939 686h1v210h-1zM1941 792h1v104h-1zM1943 680h1v216h-1zM1944 576h1v320h-1zM1946 775h1v121h-1zM1947 871h1v25h-1zM1948 837h1v59h-1zM1949 838h1v58h-1zM1950 525h1v371h-1zM1953 875h1v21h-1zM1954 856h1v40h-1zM1956 584h1v312h-1zM1957 796h1v100h-1zM1958 791h1v105h-1zM1960 520h1v376h-1zM1961 783h1v113h-1zM1964 855h1v41h-1zM1966 875h1v21h-1zM1967 679h1v217h-1zM1968 867h1v29h-1zM1970 743h1v153h-1zM1971 892h1v4h-1zM1972 582h1v314h-1zM1973 630h1v266h-1zM1975 858h1v38h-1zM1976 615h1v281h-1zM1977 862h1v34h-1zM1978 863h1v33h-1zM1979 882h1v14h-1zM1980 739h1v157h-1zM1983 839h1v57h-1zM1984 553h1v343h-1zM1986 679h1v217h-1zM1987 806h1v90h-1zM1988 576h1v320h-1zM1990 753h1v143h-1zM1991 738h1v158h-1zM1994 616h1v280h-1zM1995 885h1v11h-1zM1998 710h1v186h-1zM2000 746h1v150h-1zM2003 601h1v295h-1zM2004 758h1v138h-1zM2005 857h1v39h-1zM2006 753h1v143h-1zM2008 734h1v162h-1zM2009 645h1v251h-1zM2010 644h1v252h-1zM2011 696h1v200h-1zM2012 780h1v116h-1zM2013 893h1v3h-1zM2015 889h1v7h-1zM2016 715h1v181h-1zM2017 783h1v113h-1zM2019 872h1v24h-1zM2020 893h1v3h-1zM2024 577h1v319h-1zM2027 639h1v257h-1zM2029 666h1v230h-1zM2030 839h1v57h-1zM2031 694h1v202h-1zM2032 652h1v244h-1zM2033 724h1v172h-1zM2034 669h1v227h-1zM2035 791h1v105h-1zM2038 812h1v84h-1zM2039 800h1v96h-1zM2042 858h1v38h-1zM2046 868h1v28h-1zM2047 842h1v54h-1z"/></g>
</svg>
<div class="xl" style="left:-13.91px;letter-spacing:-0.011px">2015-10-01</div>
<div class="xl" style="left:107.83px;letter-spacing:0.556px">2016-03-25</div>
<div class="xl" style="left:231.11px;letter-spacing:0.411px">2016-09-10</div>
<div class="xl" style="left:353.28px;letter-spacing:0.467px">2017-02-26</div>
<div class="xl" style="left:474.03px;letter-spacing:-0.033px">2017-08-11</div>
<div class="xl" style="left:596.17px;letter-spacing:0.544px">2018-01-21</div>
<div class="xl" style="left:712.44px;letter-spacing:0.378px">2018-07-07</div>
<div class="xl" style="left:833.24px;letter-spacing:-0.122px">2018-12-21</div>
<div class="xl" style="left:954.71px;letter-spacing:0.811px">2019-06-05</div>
<div class="xl" style="left:1073.82px;letter-spacing:-0.667px">2019-11-17</div>
<div class="xl" style="left:1195.28px;letter-spacing:0.767px">2020-05-01</div>
<div class="xl" style="left:1318.14px;letter-spacing:0.278px">2020-10-17</div>
<div class="xl" style="left:1439.09px;letter-spacing:0.489px">2021-04-01</div>
<div class="xl" style="left:1560.44px;letter-spacing:0.278px">2021-09-15</div>
<div class="xl" style="left:1686.39px;letter-spacing:1.089px">2022-03-06</div>
<div class="xl" style="left:1812.51px;letter-spacing:0.811px">2022-08-27</div>
<div class="yl" style="top:69.0px">16M</div>
<div class="yl" style="top:268.8px">12M</div>
<div class="yl" style="top:475.1px">8M</div>
<div class="yl" style="top:681.3px">4M</div>
<div class="yl" style="top:888.2px">0</div>
</body></html>
